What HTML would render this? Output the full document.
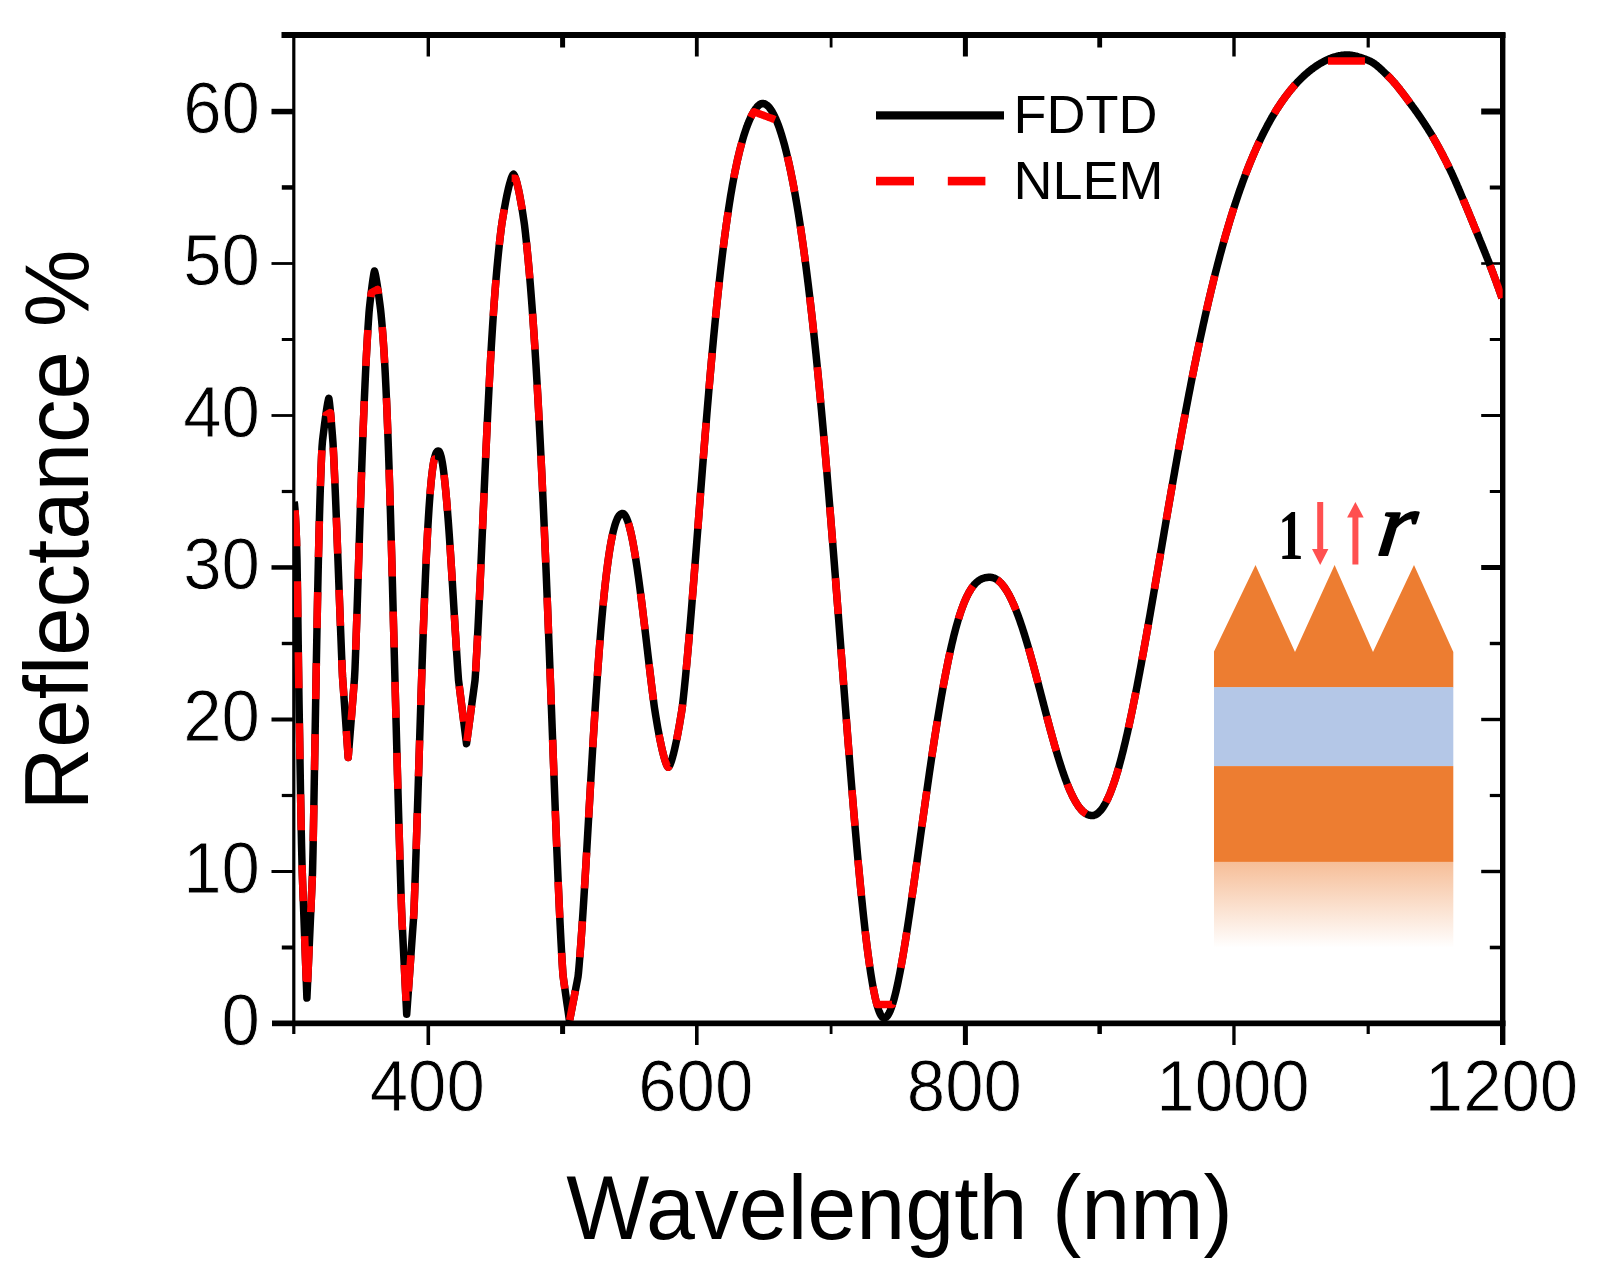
<!DOCTYPE html>
<html lang="en">
<head>
<meta charset="utf-8">
<title>Reflectance vs Wavelength</title>
<style>
html,body{margin:0;padding:0;background:#fff;}
body{width:1603px;height:1278px;overflow:hidden;}
svg{display:block;}
</style>
</head>
<body>
<svg width="1603" height="1278" viewBox="0 0 1603 1278">
<rect width="1603" height="1278" fill="#fff"/>
<defs><linearGradient id="fade" x1="0" y1="0" x2="0" y2="1"><stop offset="0" stop-color="#ED7D31" stop-opacity="0.5"/><stop offset="1" stop-color="#ED7D31" stop-opacity="0"/></linearGradient><clipPath id="plot"><rect x="293.8" y="35" width="1208.9" height="988.6"/></clipPath></defs>
<g id="inset">
<path d="M1214 687.5V651.5L1255.5 565L1295 652L1334.6 565L1373 652L1414 565L1453.3 652V687.5Z" fill="#ED7D31"/>
<rect x="1214" y="687.2" width="239.3" height="79" fill="#B4C7E7"/>
<rect x="1214" y="766.1" width="239.3" height="95.8" fill="#ED7D31"/>
<rect x="1214" y="861.8" width="239.3" height="86" fill="url(#fade)"/>
<path d="M1317.2 502H1323.2V549H1328.4L1320.2 565L1312 549H1317.2Z" fill="#FF5050"/>
<path d="M1352.4 564.5H1358.4V517.5H1363.7L1355.4 502L1347.1 517.5H1352.4Z" fill="#FF5050"/>
<text transform="translate(1290.8 559.2) scale(0.70 1.0)" text-anchor="middle" font-family="'Liberation Serif', serif" font-size="72" font-weight="bold" fill="#000">1</text>
<text transform="translate(1375.5 555.2) skewX(-7) scale(1.06 1.0)" font-family="'Liberation Serif', serif" font-size="91" font-style="italic" fill="#000" stroke="#000" stroke-width="2.2" stroke-linejoin="round">r</text>
</g>
<g fill="#000">
<rect x="281.5" y="32" width="1224" height="6"/>
<rect x="272" y="1020.5" width="1233.5" height="5.7"/>
<rect x="292.2" y="32" width="3.2" height="1002"/>
<rect x="1500" y="33" width="5.4" height="1012"/>
<rect x="281.8" y="945.5" width="11.2" height="4"/>
<rect x="1489.8" y="945.7" width="11.2" height="3.6"/>
<rect x="271.5" y="870.0" width="21.5" height="3"/>
<rect x="1481.2" y="869.8" width="19.8" height="3.4"/>
<rect x="281.8" y="793.9" width="11.2" height="3.2"/>
<rect x="1489.8" y="793.9" width="11.2" height="3.2"/>
<rect x="271.5" y="717.5" width="21.5" height="4"/>
<rect x="1481.2" y="717.8" width="19.8" height="3.4"/>
<rect x="281.8" y="641.8" width="11.2" height="3.4"/>
<rect x="1489.8" y="641.8" width="11.2" height="3.4"/>
<rect x="271.5" y="565.2" width="21.5" height="4.5"/>
<rect x="1481.2" y="565.0" width="19.8" height="5"/>
<rect x="281.8" y="489.9" width="11.2" height="3.2"/>
<rect x="1489.8" y="490.0" width="11.2" height="3"/>
<rect x="271.5" y="414.1" width="21.5" height="2.8"/>
<rect x="1481.2" y="414.0" width="19.8" height="3"/>
<rect x="281.8" y="338.0" width="11.2" height="3"/>
<rect x="1489.8" y="338.0" width="11.2" height="3"/>
<rect x="271.5" y="262.1" width="21.5" height="2.8"/>
<rect x="1481.2" y="262.2" width="19.8" height="2.6"/>
<rect x="281.8" y="185.2" width="11.2" height="4.5"/>
<rect x="1489.8" y="185.5" width="11.2" height="4"/>
<rect x="271.5" y="108.8" width="21.5" height="5.5"/>
<rect x="1481.2" y="108.5" width="19.8" height="6"/>
<rect x="426.5" y="1024" width="3.6" height="21"/>
<rect x="426.6" y="36" width="3.4" height="20.5"/>
<rect x="560.1" y="1024" width="5" height="10"/>
<rect x="560.1" y="36" width="5" height="11.5"/>
<rect x="695.0" y="1024" width="3.6" height="21"/>
<rect x="694.9" y="36" width="3.8" height="20.5"/>
<rect x="829.7" y="1024" width="2.8" height="10"/>
<rect x="829.7" y="36" width="2.8" height="11.5"/>
<rect x="962.9" y="1024" width="5" height="21"/>
<rect x="962.9" y="36" width="5" height="20.5"/>
<rect x="1097.4" y="1024" width="4.5" height="10"/>
<rect x="1097.3" y="36" width="4.8" height="11.5"/>
<rect x="1232.3" y="1024" width="3.3" height="21"/>
<rect x="1232.3" y="36" width="3.4" height="20.5"/>
<rect x="1366.6" y="1024" width="3.2" height="10"/>
<rect x="1366.6" y="36" width="3.2" height="11.5"/>
</g>
<g clip-path="url(#plot)" fill="none" stroke-linejoin="round">
<path d="M294.0 502.0L294.5 504.0L295.0 509.5L295.5 517.8L296.0 528.2L296.5 540.0L297.0 559.8L297.5 590.9L298.0 628.2L298.5 666.3L299.0 700.0L299.5 730.3L300.0 760.9L300.5 790.7L301.0 818.5L301.5 843.3L302.0 863.8L302.5 879.4L303.0 892.9L303.5 906.3L304.0 919.8L304.5 933.3L305.0 946.8L305.5 960.3L306.0 973.7L306.5 987.2L306.9 998.0L307.0 995.8L307.5 984.7L308.0 973.5L308.5 962.4L309.0 951.3L309.5 940.2L310.0 929.0L310.5 917.9L311.0 906.8L311.5 895.7L312.0 884.6L312.5 873.4L313.0 851.8L313.5 825.3L314.0 797.5L314.5 769.0L315.0 740.0L315.5 711.0L316.0 682.3L316.5 654.4L317.0 627.5L317.5 601.9L318.0 577.8L318.5 555.3L319.0 534.6L319.5 515.6L320.0 498.5L320.5 483.2L321.0 469.5L321.5 457.5L322.0 447.1L322.5 441.0L323.0 436.8L323.5 432.7L324.0 428.7L324.5 424.8L325.0 421.0L325.5 417.3L326.0 413.8L326.5 410.4L327.0 407.2L327.5 404.2L328.0 401.5L328.5 399.2L328.8 398.3L329.0 399.3L329.5 403.1L330.0 407.6L330.5 412.7L331.0 418.2L331.5 424.0L332.0 430.1L332.5 436.4L333.0 443.0L333.5 452.4L334.0 462.8L334.5 473.8L335.0 485.3L335.5 497.2L336.0 509.4L336.5 522.0L337.0 534.9L337.5 547.9L338.0 561.1L338.5 574.4L339.0 587.7L339.5 601.0L340.0 614.2L340.5 627.3L341.0 640.2L341.5 652.9L342.0 665.2L342.5 676.4L343.0 683.5L343.5 690.6L344.0 697.7L344.5 704.8L345.0 712.0L345.5 719.1L346.0 726.2L346.5 733.3L347.0 740.4L347.5 747.5L348.0 754.7L348.2 757.5L348.5 753.7L349.0 747.5L349.5 741.2L350.0 734.9L350.5 728.6L351.0 722.3L351.5 716.1L352.0 709.8L352.5 703.5L353.0 697.2L353.5 690.9L354.0 684.7L354.5 678.4L355.0 668.9L355.5 655.6L356.0 641.6L356.5 627.1L357.0 612.2L357.5 596.9L358.0 581.5L358.5 565.9L359.0 550.2L359.5 534.6L360.0 519.2L360.5 503.9L361.0 489.0L361.5 474.3L362.0 460.1L362.5 446.3L363.0 432.9L363.5 420.1L364.0 407.7L364.5 395.9L365.0 384.5L365.5 373.8L366.0 363.5L366.5 353.8L367.0 344.6L367.5 336.0L368.0 327.8L368.5 320.2L369.0 313.1L369.5 307.3L370.0 302.8L370.5 298.5L371.0 294.3L371.5 290.2L372.0 286.3L372.5 282.6L373.0 279.1L373.5 275.9L374.0 273.0L374.5 271.0L375.0 272.7L375.5 275.0L376.0 277.7L376.5 280.6L377.0 283.7L377.5 286.9L378.0 290.3L378.5 293.8L379.0 297.4L379.5 301.2L380.0 305.0L380.5 308.9L381.0 313.7L381.5 318.9L382.0 324.5L382.5 330.6L383.0 337.1L383.5 344.2L384.0 351.8L384.5 360.1L385.0 369.0L385.5 378.6L386.0 388.9L386.5 399.9L387.0 411.7L387.5 424.3L388.0 437.6L388.5 451.7L389.0 466.4L389.5 481.9L390.0 498.0L390.5 514.7L391.0 532.0L391.5 549.7L392.0 567.8L392.5 586.3L393.0 605.1L393.5 624.1L394.0 643.2L394.5 662.3L395.0 681.4L395.5 700.5L396.0 719.4L396.5 738.1L397.0 756.6L397.5 774.8L398.0 792.8L398.5 810.4L399.0 827.6L399.5 844.5L400.0 861.1L400.5 877.2L401.0 893.0L401.5 908.3L402.0 920.3L402.5 930.3L403.0 940.3L403.5 950.3L404.0 960.3L404.5 970.3L405.0 980.2L405.5 990.2L406.0 1000.2L406.5 1010.2L406.7 1014.2L407.0 1010.0L407.5 1003.0L408.0 996.0L408.5 989.0L409.0 982.1L409.5 975.1L410.0 968.1L410.5 961.1L411.0 954.1L411.5 947.1L412.0 940.1L412.5 933.1L413.0 926.1L413.5 919.2L414.0 910.2L414.5 896.8L415.0 882.9L415.5 868.6L416.0 853.8L416.5 838.7L417.0 823.3L417.5 807.7L418.0 792.0L418.5 776.2L419.0 760.3L419.5 744.5L420.0 728.7L420.5 713.1L421.0 697.7L421.5 682.6L422.0 667.7L422.5 653.2L423.0 639.1L423.5 625.4L424.0 612.1L424.5 599.3L425.0 587.0L425.5 575.2L426.0 564.0L426.5 553.3L427.0 543.2L427.5 533.7L428.0 524.7L428.5 516.4L429.0 508.6L429.5 501.4L430.0 494.7L430.5 488.7L431.0 483.1L431.5 478.1L432.0 473.6L432.5 469.6L433.0 466.0L433.5 462.9L434.0 460.2L434.5 458.0L435.0 456.1L435.5 454.5L436.0 453.3L436.5 452.3L437.0 451.7L437.5 451.2L438.0 451.0L438.3 451.0L438.5 451.0L439.0 451.3L439.5 452.0L440.0 453.1L440.5 454.5L441.0 456.2L441.5 458.4L442.0 460.8L442.5 463.7L443.0 466.9L443.5 470.5L444.0 474.4L444.5 478.7L445.0 483.3L445.5 488.3L446.0 493.6L446.5 499.1L447.0 505.0L447.5 511.2L448.0 517.7L448.5 524.4L449.0 531.3L449.5 538.5L450.0 545.9L450.5 553.4L451.0 561.2L451.5 569.0L452.0 577.0L452.5 585.1L453.0 593.3L453.5 601.5L454.0 609.7L454.5 618.0L455.0 626.2L455.5 634.3L456.0 642.4L456.5 650.3L457.0 658.1L457.5 665.7L458.0 673.1L458.5 680.0L459.0 684.0L459.5 688.0L460.0 692.0L460.5 695.9L461.0 699.9L461.5 703.9L462.0 707.9L462.5 711.9L463.0 715.9L463.5 719.9L464.0 723.9L464.5 727.8L465.0 731.8L465.5 735.8L466.0 739.8L466.5 743.8L467.0 740.1L467.5 736.4L468.0 732.6L468.5 728.9L469.0 725.2L469.5 721.5L470.0 717.7L470.5 714.0L471.0 710.3L471.5 706.6L472.0 702.8L472.5 699.1L473.0 695.4L473.5 691.7L474.0 687.9L474.5 684.2L475.0 680.5L475.5 673.6L476.0 665.1L476.5 656.3L477.0 647.1L477.5 637.5L478.0 627.6L478.5 617.4L479.0 607.0L479.5 596.3L480.0 585.4L480.5 574.3L481.0 563.1L481.5 551.8L482.0 540.4L482.5 529.0L483.0 517.5L483.5 506.1L484.0 494.7L484.5 483.4L485.0 472.2L485.5 461.1L486.0 450.1L486.5 439.3L487.0 428.7L487.5 418.3L488.0 408.1L488.5 398.2L489.0 388.4L489.5 378.9L490.0 369.7L490.5 360.7L491.0 352.0L491.5 343.5L492.0 335.4L492.5 327.5L493.0 319.8L493.5 312.4L494.0 305.3L494.5 298.5L495.0 291.9L495.5 285.5L496.0 279.4L496.5 273.5L497.0 267.9L497.5 262.5L498.0 257.3L498.5 252.3L499.0 247.5L499.5 242.9L500.0 238.5L500.5 234.2L501.0 230.2L501.5 226.2L502.0 222.8L502.5 219.6L503.0 216.6L503.5 213.6L504.0 210.7L504.5 207.8L505.0 205.1L505.5 202.4L506.0 199.8L506.5 197.3L507.0 194.8L507.5 192.5L508.0 190.3L508.5 188.1L509.0 186.1L509.5 184.2L510.0 182.4L510.5 180.7L511.0 179.1L511.5 177.7L512.0 176.5L512.5 175.4L513.0 174.6L513.5 174.2L514.0 174.7L514.5 175.6L515.0 176.8L515.5 178.1L516.0 179.7L516.5 181.4L517.0 183.3L517.5 185.3L518.0 187.5L518.5 189.7L519.0 192.1L519.5 194.6L520.0 197.2L520.5 200.0L521.0 202.8L521.5 205.7L522.0 208.7L522.5 211.7L523.0 214.9L523.5 218.2L524.0 221.5L524.5 225.1L525.0 229.3L525.5 233.7L526.0 238.3L526.5 243.0L527.0 247.9L527.5 253.0L528.0 258.2L528.5 263.6L529.0 269.1L529.5 274.9L530.0 280.8L530.5 286.8L531.0 293.1L531.5 299.5L532.0 306.1L532.5 312.9L533.0 319.8L533.5 327.0L534.0 334.3L534.5 341.9L535.0 349.6L535.5 357.5L536.0 365.6L536.5 373.9L537.0 382.4L537.5 391.1L538.0 399.9L538.5 409.0L539.0 418.3L539.5 427.8L540.0 437.5L540.5 447.4L541.0 457.4L541.5 467.7L542.0 478.2L542.5 488.9L543.0 499.8L543.5 510.9L544.0 522.1L544.5 533.6L545.0 545.2L545.5 557.0L546.0 569.0L546.5 581.2L547.0 593.5L547.5 606.0L548.0 618.6L548.5 631.4L549.0 644.3L549.5 657.2L550.0 670.3L550.5 683.5L551.0 696.8L551.5 710.1L552.0 723.4L552.5 736.7L553.0 750.1L553.5 763.4L554.0 776.6L554.5 789.8L555.0 802.9L555.5 815.9L556.0 828.7L556.5 841.3L557.0 853.7L557.5 865.9L558.0 877.8L558.5 889.4L559.0 900.6L559.5 911.5L560.0 922.0L560.5 932.1L561.0 941.8L561.5 950.9L562.0 959.6L562.5 967.7L563.0 975.3L563.5 979.1L564.0 982.6L564.5 986.1L565.0 989.6L565.5 993.1L566.0 996.6L566.5 1000.1L567.0 1003.6L567.5 1007.0L568.0 1010.5L568.5 1014.0L569.0 1017.5L569.5 1021.0L570.0 1018.4L570.5 1015.8L571.0 1013.2L571.5 1010.6L572.0 1008.0L572.5 1005.4L573.0 1002.9L573.5 1000.3L574.0 997.7L574.5 995.1L575.0 992.5L575.5 989.9L576.0 987.3L576.5 984.7L577.0 982.1L577.5 979.5L578.0 976.9L578.5 972.5L579.0 966.8L579.5 960.8L580.0 954.6L580.5 948.0L581.0 941.3L581.5 934.3L582.0 927.0L582.5 919.6L583.0 912.0L583.5 904.2L584.0 896.2L584.5 888.1L585.0 879.9L585.5 871.5L586.0 863.1L586.5 854.6L587.0 846.0L587.5 837.4L588.0 828.7L588.5 820.1L589.0 811.4L589.5 802.7L590.0 794.1L590.5 785.4L591.0 776.9L591.5 768.4L592.0 759.9L592.5 751.6L593.0 743.3L593.5 735.1L594.0 727.0L594.5 719.1L595.0 711.2L595.5 703.5L596.0 695.9L596.5 688.5L597.0 681.2L597.5 674.1L598.0 667.1L598.5 660.2L599.0 653.5L599.5 647.0L600.0 640.7L600.5 634.5L601.0 628.4L601.5 622.6L602.0 616.9L602.5 611.3L603.0 606.0L603.5 600.8L604.0 595.8L604.5 590.9L605.0 586.2L605.5 581.7L606.0 577.3L606.5 573.1L607.0 569.1L607.5 565.2L608.0 561.5L608.5 557.9L609.0 554.5L609.5 551.2L610.0 548.1L610.5 545.2L611.0 542.3L611.5 539.7L612.0 537.2L612.5 534.8L613.0 532.5L613.5 530.4L614.0 528.5L614.5 526.6L615.0 524.9L615.5 523.3L616.0 521.9L616.5 520.6L617.0 519.4L617.5 518.3L618.0 517.3L618.5 516.5L619.0 515.7L619.5 515.1L620.0 514.6L620.5 514.2L621.0 513.9L621.5 513.6L622.0 513.5L622.4 513.5L622.5 513.5L623.0 513.6L623.5 513.8L624.0 514.2L624.5 514.7L625.0 515.4L625.5 516.1L626.0 517.0L626.5 518.1L627.0 519.3L627.5 520.6L628.0 522.0L628.5 523.5L629.0 525.2L629.5 527.0L630.0 529.0L630.5 531.0L631.0 533.2L631.5 535.4L632.0 537.8L632.5 540.3L633.0 542.9L633.5 545.6L634.0 548.4L634.5 551.3L635.0 554.3L635.5 557.4L636.0 560.6L636.5 563.9L637.0 567.3L637.5 570.7L638.0 574.2L638.5 577.8L639.0 581.5L639.5 585.2L640.0 589.0L640.5 592.9L641.0 596.8L641.5 600.8L642.0 604.8L642.5 608.8L643.0 612.9L643.5 617.1L644.0 621.2L644.5 625.4L645.0 629.7L645.5 633.9L646.0 638.1L646.5 642.4L647.0 646.7L647.5 650.9L648.0 655.2L648.5 659.5L649.0 663.7L649.5 667.9L650.0 672.2L650.5 676.3L651.0 680.5L651.5 684.6L652.0 688.7L652.5 692.7L653.0 696.6L653.5 700.5L654.0 704.4L654.5 708.0L655.0 711.2L655.5 714.4L656.0 717.4L656.5 720.4L657.0 723.4L657.5 726.3L658.0 729.1L658.5 731.8L659.0 734.5L659.5 737.1L660.0 739.7L660.5 742.1L661.0 744.5L661.5 746.8L662.0 749.0L662.5 751.2L663.0 753.2L663.5 755.1L664.0 757.0L664.5 758.7L665.0 760.4L665.5 761.9L666.0 763.3L666.5 764.5L667.0 765.6L667.5 766.5L668.0 767.1L668.3 767.3L668.5 767.2L669.0 766.6L669.5 765.8L670.0 764.8L670.5 763.6L671.0 762.2L671.5 760.7L672.0 759.1L672.5 757.4L673.0 755.6L673.5 753.7L674.0 751.7L674.5 749.6L675.0 747.4L675.5 745.1L676.0 742.8L676.5 740.4L677.0 737.9L677.5 735.3L678.0 732.7L678.5 729.9L679.0 727.2L679.5 724.3L680.0 721.4L680.5 718.4L681.0 715.4L681.5 712.3L682.0 709.2L682.5 705.5L683.0 701.0L683.5 696.4L684.0 691.7L684.5 686.9L685.0 681.9L685.5 676.9L686.0 671.7L686.5 666.4L687.0 661.0L687.5 655.5L688.0 649.9L688.5 644.2L689.0 638.5L689.5 632.7L690.0 626.8L690.5 620.8L691.0 614.8L691.5 608.7L692.0 602.5L692.5 596.3L693.0 590.1L693.5 583.8L694.0 577.5L694.5 571.1L695.0 564.8L695.5 558.3L696.0 551.9L696.5 545.5L697.0 539.0L697.5 532.6L698.0 526.1L698.5 519.6L699.0 513.2L699.5 506.7L700.0 500.3L700.5 493.8L701.0 487.4L701.5 481.0L702.0 474.6L702.5 468.3L703.0 461.9L703.5 455.6L704.0 449.4L704.5 443.1L705.0 436.9L705.5 430.8L706.0 424.6L706.5 418.6L707.0 412.5L707.5 406.5L708.0 400.6L708.5 394.7L709.0 388.8L709.5 383.1L710.0 377.3L710.5 371.6L711.0 366.0L711.5 360.4L712.0 354.9L712.5 349.5L713.0 344.1L713.5 338.7L714.0 333.5L714.5 328.3L715.0 323.1L715.5 318.0L716.0 313.0L716.5 308.1L717.0 303.2L717.5 298.4L718.0 293.6L718.5 288.9L719.0 284.3L719.5 279.8L720.0 275.3L720.5 270.9L721.0 266.5L721.5 262.3L722.0 258.0L722.5 253.9L723.0 249.8L723.5 245.8L724.0 241.9L724.5 238.0L725.0 234.2L725.5 230.5L726.0 226.8L726.5 223.2L727.0 219.7L727.5 216.2L728.0 212.8L728.5 209.5L729.0 206.2L729.5 203.0L730.0 199.8L730.5 196.7L731.0 193.7L731.5 190.8L732.0 187.9L732.5 185.0L733.0 182.3L733.5 179.6L734.0 176.9L734.5 174.3L735.0 171.8L735.5 169.3L736.0 166.9L736.5 164.5L737.0 162.2L737.5 159.9L738.0 157.7L738.5 155.6L739.0 153.5L739.5 151.4L740.0 149.4L740.5 147.5L741.0 145.6L741.5 143.7L742.0 141.9L742.5 140.2L743.0 138.5L743.5 136.8L744.0 135.2L744.5 133.6L745.0 132.1L745.5 130.6L746.0 129.1L746.5 127.7L747.0 126.4L747.5 125.0L748.0 123.8L748.5 122.5L749.0 121.3L749.5 120.1L750.0 119.0L750.5 117.9L751.0 116.8L751.5 115.8L752.0 114.8L752.5 113.9L753.0 113.0L753.5 112.1L754.0 111.3L754.5 110.5L755.0 109.7L755.5 109.0L756.0 108.3L756.5 107.7L757.0 107.0L757.5 106.5L758.0 106.0L758.5 105.5L759.0 105.1L759.5 104.7L760.0 104.3L760.5 104.1L761.0 103.8L761.5 103.7L762.0 103.5L762.5 103.5L762.6 103.5L763.0 103.5L763.5 103.6L764.0 103.7L764.5 103.8L765.0 104.0L765.5 104.3L766.0 104.6L766.5 104.9L767.0 105.3L767.5 105.7L768.0 106.2L768.5 106.7L769.0 107.2L769.5 107.8L770.0 108.5L770.5 109.1L771.0 109.9L771.5 110.6L772.0 111.4L772.5 112.3L773.0 113.2L773.5 114.1L774.0 115.1L774.5 116.1L775.0 117.2L775.5 118.3L776.0 119.4L776.5 120.6L777.0 121.8L777.5 123.1L778.0 124.4L778.5 125.7L779.0 127.1L779.5 128.5L780.0 130.0L780.5 131.5L781.0 133.1L781.5 134.7L782.0 136.3L782.5 138.0L783.0 139.7L783.5 141.5L784.0 143.3L784.5 145.1L785.0 147.0L785.5 148.9L786.0 150.9L786.5 152.9L787.0 155.0L787.5 157.1L788.0 159.2L788.5 161.4L789.0 163.6L789.5 165.9L790.0 168.2L790.5 170.6L791.0 173.0L791.5 175.4L792.0 177.9L792.5 180.5L793.0 183.0L793.5 185.7L794.0 188.3L794.5 191.1L795.0 193.8L795.5 196.6L796.0 199.5L796.5 202.4L797.0 205.4L797.5 208.4L798.0 211.4L798.5 214.5L799.0 217.7L799.5 220.8L800.0 224.1L800.5 227.4L801.0 230.7L801.5 234.1L802.0 237.5L802.5 241.0L803.0 244.6L803.5 248.1L804.0 251.8L804.5 255.5L805.0 259.2L805.5 263.0L806.0 266.8L806.5 270.7L807.0 274.7L807.5 278.7L808.0 282.7L808.5 286.8L809.0 291.0L809.5 295.2L810.0 299.4L810.5 303.7L811.0 308.1L811.5 312.5L812.0 316.9L812.5 321.4L813.0 326.0L813.5 330.6L814.0 335.3L814.5 340.0L815.0 344.8L815.5 349.6L816.0 354.4L816.5 359.4L817.0 364.3L817.5 369.3L818.0 374.4L818.5 379.5L819.0 384.7L819.5 389.9L820.0 395.2L820.5 400.5L821.0 405.8L821.5 411.2L822.0 416.7L822.5 422.2L823.0 427.7L823.5 433.3L824.0 439.0L824.5 444.6L825.0 450.4L825.5 456.1L826.0 461.9L826.5 467.8L827.0 473.6L827.5 479.6L828.0 485.5L828.5 491.5L829.0 497.5L829.5 503.6L830.0 509.7L830.5 515.8L831.0 522.0L831.5 528.2L832.0 534.4L832.5 540.7L833.0 547.0L833.5 553.3L834.0 559.6L834.5 565.9L835.0 572.3L835.5 578.7L836.0 585.1L836.5 591.6L837.0 598.0L837.5 604.5L838.0 610.9L838.5 617.4L839.0 623.9L839.5 630.4L840.0 636.9L840.5 643.4L841.0 650.0L841.5 656.5L842.0 663.0L842.5 669.5L843.0 676.0L843.5 682.5L844.0 689.0L844.5 695.5L845.0 702.0L845.5 708.5L846.0 714.9L846.5 721.4L847.0 727.8L847.5 734.2L848.0 740.6L848.5 746.9L849.0 753.2L849.5 759.5L850.0 765.8L850.5 772.0L851.0 778.2L851.5 784.4L852.0 790.5L852.5 796.5L853.0 802.6L853.5 808.6L854.0 814.5L854.5 820.4L855.0 826.2L855.5 832.0L856.0 837.8L856.5 843.4L857.0 849.1L857.5 854.6L858.0 860.1L858.5 865.5L859.0 870.9L859.5 876.2L860.0 881.4L860.5 886.6L861.0 891.6L861.5 896.6L862.0 901.5L862.5 906.4L863.0 911.1L863.5 915.8L864.0 920.4L864.5 924.9L865.0 929.3L865.5 933.7L866.0 937.9L866.5 942.0L867.0 946.1L867.5 950.0L868.0 953.9L868.5 957.6L869.0 961.3L869.5 964.8L870.0 968.2L870.5 971.6L871.0 974.8L871.5 977.9L872.0 981.0L872.5 983.9L873.0 986.7L873.5 989.3L874.0 991.9L874.5 994.3L875.0 996.7L875.5 998.9L876.0 1001.0L876.5 1003.0L877.0 1004.9L877.5 1006.6L878.0 1008.2L878.5 1009.7L879.0 1011.1L879.5 1012.4L880.0 1013.5L880.5 1014.5L881.0 1015.4L881.5 1016.1L882.0 1016.8L882.5 1017.3L883.0 1017.6L883.5 1017.9L884.0 1018.0L884.2 1018.0L884.5 1018.0L885.0 1017.9L885.5 1017.6L886.0 1017.3L886.5 1016.9L887.0 1016.4L887.5 1015.7L888.0 1015.0L888.5 1014.2L889.0 1013.3L889.5 1012.3L890.0 1011.2L890.5 1010.0L891.0 1008.7L891.5 1007.3L892.0 1005.8L892.5 1004.3L893.0 1002.7L893.5 1001.0L894.0 999.2L894.5 997.3L895.0 995.4L895.5 993.4L896.0 991.3L896.5 989.1L897.0 986.9L897.5 984.6L898.0 982.2L898.5 979.8L899.0 977.3L899.5 974.8L900.0 972.2L900.5 969.5L901.0 966.8L901.5 964.0L902.0 961.2L902.5 958.4L903.0 955.5L903.5 952.5L904.0 949.5L904.5 946.5L905.0 943.4L905.5 940.3L906.0 937.1L906.5 933.9L907.0 930.7L907.5 927.4L908.0 924.1L908.5 920.8L909.0 917.5L909.5 914.1L910.0 910.7L910.5 907.3L911.0 903.9L911.5 900.4L912.0 896.9L912.5 893.4L913.0 889.9L913.5 886.4L914.0 882.9L914.5 879.3L915.0 875.8L915.5 872.2L916.0 868.6L916.5 865.0L917.0 861.4L917.5 857.8L918.0 854.2L918.5 850.6L919.0 847.0L919.5 843.4L920.0 839.8L920.5 836.1L921.0 832.5L921.5 828.9L922.0 825.3L922.5 821.7L923.0 818.1L923.5 814.5L924.0 811.0L924.5 807.4L925.0 803.8L925.5 800.3L926.0 796.7L926.5 793.2L927.0 789.7L927.5 786.2L928.0 782.7L928.5 779.2L929.0 775.8L929.5 772.3L930.0 768.9L930.5 765.5L931.0 762.1L931.5 758.7L932.0 755.3L932.5 752.0L933.0 748.7L933.5 745.4L934.0 742.1L934.5 738.9L935.0 735.7L935.5 732.5L936.0 729.3L936.5 726.1L937.0 723.0L937.5 719.9L938.0 716.8L938.5 713.8L939.0 710.8L939.5 707.8L940.0 704.8L940.5 701.9L941.0 699.0L941.5 696.1L942.0 693.3L942.5 690.5L943.0 687.7L943.5 684.9L944.0 682.2L944.5 679.5L945.0 676.9L945.5 674.3L946.0 671.7L946.5 669.2L947.0 666.6L947.5 664.2L948.0 661.7L948.5 659.3L949.0 656.9L949.5 654.6L950.0 652.3L950.5 650.0L951.0 647.8L951.5 645.6L952.0 643.5L952.5 641.4L953.0 639.3L953.5 637.2L954.0 635.2L954.5 633.3L955.0 631.3L955.5 629.4L956.0 627.6L956.5 625.8L957.0 624.0L957.5 622.2L958.0 620.5L958.5 618.9L959.0 617.3L959.5 615.7L960.0 614.1L960.5 612.6L961.0 611.1L961.5 609.7L962.0 608.3L962.5 606.9L963.0 605.6L963.5 604.3L964.0 603.0L964.5 601.8L965.0 600.6L965.5 599.5L966.0 598.4L966.5 597.3L967.0 596.2L967.5 595.2L968.0 594.3L968.5 593.3L969.0 592.4L969.5 591.5L970.0 590.7L970.5 589.9L971.0 589.1L971.5 588.3L972.0 587.6L972.5 586.9L973.0 586.3L973.5 585.6L974.0 585.0L974.5 584.5L975.0 583.9L975.5 583.4L976.0 582.9L976.5 582.4L977.0 582.0L977.5 581.6L978.0 581.2L978.5 580.8L979.0 580.4L979.5 580.1L980.0 579.8L980.5 579.5L981.0 579.3L981.5 579.0L982.0 578.8L982.5 578.6L983.0 578.4L983.5 578.2L984.0 578.1L984.5 577.9L985.0 577.8L985.5 577.7L986.0 577.6L986.5 577.5L987.0 577.5L987.5 577.4L988.0 577.4L988.5 577.3L989.0 577.3L989.5 577.3L989.7 577.3L990.0 577.3L990.5 577.3L991.0 577.4L991.5 577.4L992.0 577.5L992.5 577.6L993.0 577.8L993.5 577.9L994.0 578.1L994.5 578.3L995.0 578.5L995.5 578.8L996.0 579.1L996.5 579.4L997.0 579.7L997.5 580.0L998.0 580.4L998.5 580.8L999.0 581.2L999.5 581.7L1000.0 582.1L1000.5 582.6L1001.0 583.2L1001.5 583.7L1002.0 584.3L1002.5 584.9L1003.0 585.5L1003.5 586.1L1004.0 586.8L1004.5 587.5L1005.0 588.2L1005.5 588.9L1006.0 589.7L1006.5 590.5L1007.0 591.3L1007.5 592.2L1008.0 593.0L1008.5 593.9L1009.0 594.8L1009.5 595.8L1010.0 596.7L1010.5 597.7L1011.0 598.8L1011.5 599.8L1012.0 600.9L1012.5 601.9L1013.0 603.1L1013.5 604.2L1014.0 605.4L1014.5 606.5L1015.0 607.7L1015.5 609.0L1016.0 610.2L1016.5 611.5L1017.0 612.8L1017.5 614.1L1018.0 615.4L1018.5 616.8L1019.0 618.2L1019.5 619.6L1020.0 621.0L1020.5 622.5L1021.0 623.9L1021.5 625.4L1022.0 626.9L1022.5 628.4L1023.0 630.0L1023.5 631.5L1024.0 633.1L1024.5 634.7L1025.0 636.3L1025.5 637.9L1026.0 639.6L1026.5 641.3L1027.0 642.9L1027.5 644.6L1028.0 646.3L1028.5 648.0L1029.0 649.8L1029.5 651.5L1030.0 653.3L1030.5 655.1L1031.0 656.9L1031.5 658.7L1032.0 660.5L1032.5 662.3L1033.0 664.1L1033.5 666.0L1034.0 667.8L1034.5 669.7L1035.0 671.5L1035.5 673.4L1036.0 675.3L1036.5 677.2L1037.0 679.1L1037.5 681.0L1038.0 682.9L1038.5 684.8L1039.0 686.7L1039.5 688.6L1040.0 690.5L1040.5 692.4L1041.0 694.4L1041.5 696.3L1042.0 698.2L1042.5 700.1L1043.0 702.0L1043.5 704.0L1044.0 705.9L1044.5 707.8L1045.0 709.7L1045.5 711.6L1046.0 713.5L1046.5 715.4L1047.0 717.3L1047.5 719.2L1048.0 721.1L1048.5 723.0L1049.0 724.9L1049.5 726.7L1050.0 728.6L1050.5 730.5L1051.0 732.3L1051.5 734.1L1052.0 735.9L1052.5 737.7L1053.0 739.5L1053.5 741.3L1054.0 743.1L1054.5 744.9L1055.0 746.6L1055.5 748.3L1056.0 750.1L1056.5 751.8L1057.0 753.4L1057.5 755.1L1058.0 756.8L1058.5 758.4L1059.0 760.0L1059.5 761.6L1060.0 763.2L1060.5 764.8L1061.0 766.3L1061.5 767.9L1062.0 769.4L1062.5 770.9L1063.0 772.3L1063.5 773.8L1064.0 775.2L1064.5 776.6L1065.0 778.0L1065.5 779.4L1066.0 780.7L1066.5 782.0L1067.0 783.3L1067.5 784.6L1068.0 785.8L1068.5 787.1L1069.0 788.3L1069.5 789.5L1070.0 790.6L1070.5 791.7L1071.0 792.8L1071.5 793.9L1072.0 795.0L1072.5 796.0L1073.0 797.0L1073.5 798.0L1074.0 798.9L1074.5 799.8L1075.0 800.7L1075.5 801.6L1076.0 802.4L1076.5 803.3L1077.0 804.1L1077.5 804.8L1078.0 805.6L1078.5 806.3L1079.0 807.0L1079.5 807.6L1080.0 808.2L1080.5 808.8L1081.0 809.4L1081.5 810.0L1082.0 810.5L1082.5 811.0L1083.0 811.5L1083.5 811.9L1084.0 812.3L1084.5 812.7L1085.0 813.1L1085.5 813.4L1086.0 813.7L1086.5 814.0L1087.0 814.3L1087.5 814.5L1088.0 814.7L1088.5 814.9L1089.0 815.1L1089.5 815.2L1090.0 815.3L1090.5 815.4L1091.0 815.5L1091.5 815.5L1092.0 815.5L1092.5 815.5L1093.0 815.4L1093.5 815.4L1094.0 815.2L1094.5 815.1L1095.0 814.9L1095.5 814.7L1096.0 814.4L1096.5 814.2L1097.0 813.8L1097.5 813.5L1098.0 813.1L1098.5 812.7L1099.0 812.2L1099.5 811.7L1100.0 811.2L1100.5 810.7L1101.0 810.1L1101.5 809.4L1102.0 808.8L1102.5 808.1L1103.0 807.4L1103.5 806.6L1104.0 805.8L1104.5 805.0L1105.0 804.1L1105.5 803.2L1106.0 802.3L1106.5 801.3L1107.0 800.3L1107.5 799.2L1108.0 798.2L1108.5 797.1L1109.0 795.9L1109.5 794.8L1110.0 793.6L1110.5 792.3L1111.0 791.0L1111.5 789.7L1112.0 788.4L1112.5 787.0L1113.0 785.6L1113.5 784.2L1114.0 782.7L1114.5 781.2L1115.0 779.7L1115.5 778.2L1116.0 776.6L1116.5 775.0L1117.0 773.3L1117.5 771.6L1118.0 769.9L1118.5 768.2L1119.0 766.4L1119.5 764.6L1120.0 762.8L1120.5 760.9L1121.0 759.1L1121.5 757.2L1122.0 755.2L1122.5 753.3L1123.0 751.3L1123.5 749.3L1124.0 747.2L1124.5 745.2L1125.0 743.1L1125.5 741.0L1126.0 738.8L1126.5 736.7L1127.0 734.5L1127.5 732.3L1128.0 730.0L1128.5 727.8L1129.0 725.5L1129.5 723.2L1130.0 720.9L1130.5 718.5L1131.0 716.2L1131.5 713.8L1132.0 711.4L1132.5 709.0L1133.0 706.5L1133.5 704.1L1134.0 701.6L1134.5 699.1L1135.0 696.6L1135.5 694.0L1136.0 691.5L1136.5 688.9L1137.0 686.4L1137.5 683.8L1138.0 681.1L1138.5 678.5L1139.0 675.9L1139.5 673.2L1140.0 670.5L1140.5 667.9L1141.0 665.2L1141.5 662.5L1142.0 659.7L1142.5 657.0L1143.0 654.3L1143.5 651.5L1144.0 648.7L1144.5 646.0L1145.0 643.2L1145.5 640.4L1146.0 637.6L1146.5 634.8L1147.0 631.9L1147.5 629.1L1148.0 626.3L1148.5 623.4L1149.0 620.5L1149.5 617.7L1150.0 614.8L1150.5 611.9L1151.0 609.1L1151.5 606.2L1152.0 603.3L1152.5 600.4L1153.0 597.5L1153.5 594.6L1154.0 591.7L1154.5 588.8L1155.0 585.8L1155.5 582.9L1156.0 580.0L1156.5 577.1L1157.0 574.1L1157.5 571.2L1158.0 568.3L1158.5 565.4L1159.0 562.4L1159.5 559.5L1160.0 556.6L1160.5 553.6L1161.0 550.7L1161.5 547.8L1162.0 544.8L1162.5 541.9L1163.0 539.0L1163.5 536.1L1164.0 533.1L1164.5 530.2L1165.0 527.3L1165.5 524.4L1166.0 521.5L1166.5 518.5L1167.0 515.6L1167.5 512.7L1168.0 509.8L1168.5 506.9L1169.0 504.0L1169.5 501.2L1170.0 498.3L1170.5 495.4L1171.0 492.5L1171.5 489.6L1172.0 486.8L1172.5 483.9L1173.0 481.1L1173.5 478.2L1174.0 475.4L1174.5 472.6L1175.0 469.7L1175.5 466.9L1176.0 464.1L1176.5 461.3L1177.0 458.5L1177.5 455.7L1178.0 452.9L1178.5 450.1L1179.0 447.4L1179.5 444.6L1180.0 441.9L1180.5 439.1L1181.0 436.4L1181.5 433.6L1182.0 430.9L1182.5 428.2L1183.0 425.5L1183.5 422.8L1184.0 420.1L1184.5 417.5L1185.0 414.8L1185.5 412.1L1186.0 409.5L1186.5 406.9L1187.0 404.2L1187.5 401.6L1188.0 399.0L1188.5 396.4L1189.0 393.8L1189.5 391.3L1190.0 388.7L1190.5 386.1L1191.0 383.6L1191.5 381.1L1192.0 378.5L1192.5 376.0L1193.0 373.5L1193.5 371.0L1194.0 368.5L1194.5 366.1L1195.0 363.6L1195.5 361.2L1196.0 358.7L1196.5 356.3L1197.0 353.9L1197.5 351.5L1198.0 349.1L1198.5 346.7L1199.0 344.3L1199.5 342.0L1200.0 339.6L1200.5 337.3L1201.0 335.0L1201.5 332.7L1202.0 330.4L1202.5 328.1L1203.0 325.8L1203.5 323.5L1204.0 321.3L1204.5 319.1L1205.0 316.8L1205.5 314.6L1206.0 312.4L1206.5 310.2L1207.0 308.0L1207.5 305.9L1208.0 303.7L1208.5 301.5L1209.0 299.4L1209.5 297.3L1210.0 295.2L1210.5 293.1L1211.0 291.0L1211.5 288.9L1212.0 286.8L1212.5 284.8L1213.0 282.8L1213.5 280.7L1214.0 278.7L1214.5 276.7L1215.0 274.7L1215.5 272.7L1216.0 270.8L1216.5 268.8L1217.0 266.9L1217.5 264.9L1218.0 263.0L1218.5 261.1L1219.0 259.2L1219.5 257.3L1220.0 255.4L1220.5 253.6L1221.0 251.7L1221.5 249.9L1222.0 248.0L1222.5 246.2L1223.0 244.4L1223.5 242.6L1224.0 240.8L1224.5 239.1L1225.0 237.3L1225.5 235.5L1226.0 233.8L1226.5 232.1L1227.0 230.4L1227.5 228.7L1228.0 227.0L1228.5 225.3L1229.0 223.6L1229.5 222.0L1230.0 220.3L1230.5 218.7L1231.0 217.0L1231.5 215.4L1232.0 213.8L1232.5 212.2L1233.0 210.6L1233.5 209.1L1234.0 207.5L1234.5 206.0L1235.0 204.4L1235.5 202.9L1236.0 201.4L1236.5 199.9L1237.0 198.4L1237.5 196.9L1238.0 195.4L1238.5 193.9L1239.0 192.5L1239.5 191.0L1240.0 189.6L1240.5 188.2L1241.0 186.8L1241.5 185.4L1242.0 184.0L1242.5 182.6L1243.0 181.2L1243.5 179.8L1244.0 178.5L1244.5 177.1L1245.0 175.8L1245.5 174.5L1246.0 173.2L1246.5 171.9L1247.0 170.6L1247.5 169.3L1248.0 168.0L1248.5 166.8L1249.0 165.5L1249.5 164.3L1250.0 163.0L1250.5 161.8L1251.0 160.6L1251.5 159.4L1252.0 158.2L1252.5 157.0L1253.0 155.8L1253.5 154.6L1254.0 153.5L1254.5 152.3L1255.0 151.2L1255.5 150.0L1256.0 148.9L1256.5 147.8L1257.0 146.7L1257.5 145.6L1258.0 144.5L1258.5 143.4L1259.0 142.3L1259.5 141.3L1260.0 140.2L1260.5 139.1L1261.0 138.1L1261.5 137.1L1262.0 136.0L1262.5 135.0L1263.0 134.0L1263.5 133.0L1264.0 132.0L1264.5 131.1L1265.0 130.1L1265.5 129.1L1266.0 128.2L1266.5 127.2L1267.0 126.3L1267.5 125.3L1268.0 124.4L1268.5 123.5L1269.0 122.6L1269.5 121.7L1270.0 120.8L1270.5 119.9L1271.0 119.0L1271.5 118.1L1272.0 117.3L1272.5 116.4L1273.0 115.6L1273.5 114.7L1274.0 113.9L1274.5 113.1L1275.0 112.2L1275.5 111.4L1276.0 110.6L1276.5 109.8L1277.0 109.0L1277.5 108.2L1278.0 107.5L1278.5 106.7L1279.0 105.9L1279.5 105.2L1280.0 104.4L1280.5 103.7L1281.0 102.9L1281.5 102.2L1282.0 101.5L1282.5 100.8L1283.0 100.1L1283.5 99.4L1284.0 98.7L1284.5 98.0L1285.0 97.3L1285.5 96.6L1286.0 95.9L1286.5 95.3L1287.0 94.6L1287.5 94.0L1288.0 93.3L1288.5 92.7L1289.0 92.0L1289.5 91.4L1290.0 90.8L1290.5 90.2L1291.0 89.6L1291.5 89.0L1292.0 88.4L1292.5 87.8L1293.0 87.2L1293.5 86.6L1294.0 86.0L1294.5 85.5L1295.0 84.9L1295.5 84.4L1296.0 83.8L1296.5 83.3L1297.0 82.7L1297.5 82.2L1298.0 81.7L1298.5 81.1L1299.0 80.6L1299.5 80.1L1300.0 79.6L1300.5 79.1L1301.0 78.6L1301.5 78.1L1302.0 77.6L1302.5 77.1L1303.0 76.7L1303.5 76.2L1304.0 75.7L1304.5 75.3L1305.0 74.8L1305.5 74.4L1306.0 73.9L1306.5 73.5L1307.0 73.1L1307.5 72.7L1308.0 72.2L1308.5 71.8L1309.0 71.4L1309.5 71.0L1310.0 70.6L1310.5 70.2L1311.0 69.8L1311.5 69.4L1312.0 69.0L1312.5 68.7L1313.0 68.3L1313.5 67.9L1314.0 67.6L1314.5 67.2L1315.0 66.9L1315.5 66.5L1316.0 66.2L1316.5 65.8L1317.0 65.5L1317.5 65.2L1318.0 64.9L1318.5 64.5L1319.0 64.2L1319.5 63.9L1320.0 63.6L1320.5 63.3L1321.0 63.0L1321.5 62.7L1322.0 62.5L1322.5 62.2L1323.0 61.9L1323.5 61.6L1324.0 61.4L1324.5 61.1L1325.0 60.9L1325.5 60.6L1326.0 60.4L1326.5 60.1L1327.0 59.9L1327.5 59.7L1328.0 59.4L1328.5 59.2L1329.0 59.0L1329.5 58.8L1330.0 58.6L1330.5 58.4L1331.0 58.2L1331.5 58.0L1332.0 57.8L1332.5 57.7L1333.0 57.5L1333.5 57.3L1334.0 57.2L1334.5 57.0L1335.0 56.9L1335.5 56.7L1336.0 56.6L1336.5 56.4L1337.0 56.3L1337.5 56.2L1338.0 56.1L1338.5 56.0L1339.0 55.8L1339.5 55.7L1340.0 55.7L1340.5 55.6L1341.0 55.5L1341.5 55.4L1342.0 55.3L1342.5 55.3L1343.0 55.2L1343.5 55.2L1344.0 55.1L1344.5 55.1L1345.0 55.1L1345.5 55.0L1346.0 55.0L1346.5 55.0L1347.0 55.0L1347.5 55.0L1348.0 55.0L1348.5 55.0L1349.0 55.1L1349.5 55.1L1350.0 55.1L1350.5 55.2L1351.0 55.3L1351.5 55.3L1352.0 55.4L1352.5 55.5L1353.0 55.6L1353.5 55.7L1354.0 55.8L1354.5 55.9L1355.0 56.0L1355.5 56.1L1356.0 56.2L1356.5 56.3L1357.0 56.5L1357.5 56.6L1358.0 56.8L1358.5 56.9L1359.0 57.1L1359.5 57.2L1360.0 57.4L1360.5 57.5L1361.0 57.7L1361.5 57.9L1362.0 58.0L1362.5 58.2L1363.0 58.4L1363.5 58.6L1364.0 58.8L1364.5 59.0L1365.0 59.1L1365.5 59.3L1366.0 59.5L1366.5 59.7L1367.0 59.9L1367.5 60.1L1368.0 60.3L1368.5 60.5L1369.0 60.7L1369.5 60.9L1370.0 61.1L1370.5 61.4L1371.0 61.6L1371.5 61.9L1372.0 62.2L1372.5 62.5L1373.0 62.8L1373.5 63.1L1374.0 63.5L1374.5 63.8L1375.0 64.2L1375.5 64.6L1376.0 64.9L1376.5 65.3L1377.0 65.7L1377.5 66.2L1378.0 66.6L1378.5 67.0L1379.0 67.4L1379.5 67.9L1380.0 68.3L1380.5 68.8L1381.0 69.3L1381.5 69.7L1382.0 70.2L1382.5 70.7L1383.0 71.1L1383.5 71.6L1384.0 72.1L1384.5 72.6L1385.0 73.1L1385.5 73.6L1386.0 74.1L1386.5 74.5L1387.0 75.0L1387.5 75.5L1388.0 76.0L1388.5 76.5L1389.0 77.0L1389.5 77.5L1390.0 78.0L1390.5 78.5L1391.0 79.1L1391.5 79.6L1392.0 80.1L1392.5 80.7L1393.0 81.3L1393.5 81.8L1394.0 82.4L1394.5 83.0L1395.0 83.5L1395.5 84.1L1396.0 84.7L1396.5 85.3L1397.0 85.9L1397.5 86.6L1398.0 87.2L1398.5 87.8L1399.0 88.4L1399.5 89.0L1400.0 89.7L1400.5 90.3L1401.0 91.0L1401.5 91.6L1402.0 92.3L1402.5 92.9L1403.0 93.6L1403.5 94.2L1404.0 94.9L1404.5 95.6L1405.0 96.2L1405.5 96.9L1406.0 97.6L1406.5 98.2L1407.0 98.9L1407.5 99.6L1408.0 100.3L1408.5 100.9L1409.0 101.6L1409.5 102.3L1410.0 103.0L1410.5 103.7L1411.0 104.3L1411.5 105.0L1412.0 105.7L1412.5 106.4L1413.0 107.1L1413.5 107.7L1414.0 108.4L1414.5 109.1L1415.0 109.8L1415.5 110.5L1416.0 111.2L1416.5 111.9L1417.0 112.6L1417.5 113.3L1418.0 114.0L1418.5 114.7L1419.0 115.5L1419.5 116.2L1420.0 116.9L1420.5 117.6L1421.0 118.4L1421.5 119.1L1422.0 119.9L1422.5 120.6L1423.0 121.4L1423.5 122.1L1424.0 122.9L1424.5 123.6L1425.0 124.4L1425.5 125.2L1426.0 125.9L1426.5 126.7L1427.0 127.5L1427.5 128.3L1428.0 129.1L1428.5 129.9L1429.0 130.7L1429.5 131.5L1430.0 132.3L1430.5 133.1L1431.0 133.9L1431.5 134.8L1432.0 135.6L1432.5 136.4L1433.0 137.3L1433.5 138.1L1434.0 139.0L1434.5 139.9L1435.0 140.7L1435.5 141.6L1436.0 142.5L1436.5 143.4L1437.0 144.3L1437.5 145.2L1438.0 146.1L1438.5 147.0L1439.0 147.9L1439.5 148.9L1440.0 149.8L1440.5 150.7L1441.0 151.7L1441.5 152.6L1442.0 153.6L1442.5 154.5L1443.0 155.5L1443.5 156.5L1444.0 157.5L1444.5 158.4L1445.0 159.4L1445.5 160.4L1446.0 161.4L1446.5 162.4L1447.0 163.4L1447.5 164.4L1448.0 165.5L1448.5 166.5L1449.0 167.5L1449.5 168.5L1450.0 169.6L1450.5 170.6L1451.0 171.7L1451.5 172.7L1452.0 173.8L1452.5 174.9L1453.0 176.0L1453.5 177.1L1454.0 178.2L1454.5 179.3L1455.0 180.4L1455.5 181.6L1456.0 182.7L1456.5 183.9L1457.0 185.0L1457.5 186.2L1458.0 187.3L1458.5 188.5L1459.0 189.7L1459.5 190.9L1460.0 192.0L1460.5 193.2L1461.0 194.4L1461.5 195.6L1462.0 196.8L1462.5 197.9L1463.0 199.1L1463.5 200.3L1464.0 201.5L1464.5 202.7L1465.0 203.9L1465.5 205.0L1466.0 206.2L1466.5 207.4L1467.0 208.6L1467.5 209.8L1468.0 211.0L1468.5 212.2L1469.0 213.4L1469.5 214.6L1470.0 215.9L1470.5 217.1L1471.0 218.3L1471.5 219.5L1472.0 220.7L1472.5 222.0L1473.0 223.2L1473.5 224.4L1474.0 225.6L1474.5 226.9L1475.0 228.1L1475.5 229.3L1476.0 230.5L1476.5 231.8L1477.0 233.0L1477.5 234.2L1478.0 235.5L1478.5 236.7L1479.0 237.9L1479.5 239.1L1480.0 240.4L1480.5 241.6L1481.0 242.8L1481.5 244.0L1482.0 245.3L1482.5 246.5L1483.0 247.7L1483.5 248.9L1484.0 250.2L1484.5 251.4L1485.0 252.6L1485.5 253.9L1486.0 255.1L1486.5 256.4L1487.0 257.6L1487.5 258.9L1488.0 260.1L1488.5 261.4L1489.0 262.7L1489.5 264.0L1490.0 265.3L1490.5 266.6L1491.0 267.9L1491.5 269.2L1492.0 270.5L1492.5 271.8L1493.0 273.2L1493.5 274.5L1494.0 275.8L1494.5 277.2L1495.0 278.5L1495.5 279.9L1496.0 281.2L1496.5 282.6L1497.0 284.0L1497.5 285.4L1498.0 286.7L1498.5 288.1L1499.0 289.5L1499.5 290.9L1500.0 292.3L1500.5 293.7L1501.0 295.2L1501.5 296.6L1502.0 298.0" stroke="#000" stroke-width="7.5"/>
<path d="M294.0 502.0L294.5 504.0L295.0 509.5L295.5 517.8L296.0 528.2L296.5 540.0L297.0 559.8L297.5 590.9L298.0 628.2L298.5 666.3L299.0 700.0L299.5 730.3L300.0 760.9L300.5 790.7L301.0 818.5L301.5 843.3L302.0 863.8L302.5 879.4L303.0 892.9L303.5 906.3L304.0 919.8L304.5 933.3L305.0 946.8L305.5 960.3L306.0 973.7L306.5 987.2L306.9 998.0L307.0 995.8L307.5 984.7L308.0 973.5L308.5 962.4L309.0 951.3L309.5 940.2L310.0 929.0L310.5 917.9L311.0 906.8L311.5 895.7L312.0 884.6L312.5 873.4L313.0 851.8L313.5 825.3L314.0 797.5L314.5 769.0L315.0 740.0L315.5 711.0L316.0 682.3L316.5 654.4L317.0 627.5L317.5 601.9L318.0 577.8L318.5 555.3L319.0 534.6L319.5 515.6L320.0 498.5L320.5 483.2L321.0 469.5L321.5 457.5L322.0 447.1L322.5 441.0L323.0 436.8L323.5 432.7L324.0 428.7L324.5 424.8L325.0 421.0L325.5 417.3L326.0 415.0L326.5 414.7L327.0 414.4L327.5 414.1L328.0 413.8L328.5 413.5L328.8 413.3L329.0 413.2L329.5 412.9L330.0 412.6L330.5 412.7L331.0 418.2L331.5 424.0L332.0 430.1L332.5 436.4L333.0 443.0L333.5 452.4L334.0 462.8L334.5 473.8L335.0 485.3L335.5 497.2L336.0 509.4L336.5 522.0L337.0 534.9L337.5 547.9L338.0 561.1L338.5 574.4L339.0 587.7L339.5 601.0L340.0 614.2L340.5 627.3L341.0 640.2L341.5 652.9L342.0 665.2L342.5 676.4L343.0 683.5L343.5 690.6L344.0 697.7L344.5 704.8L345.0 712.0L345.5 719.1L346.0 726.2L346.5 733.3L347.0 740.4L347.5 747.5L348.0 754.7L348.2 757.5L348.5 753.7L349.0 747.5L349.5 741.2L350.0 734.9L350.5 728.6L351.0 722.3L351.5 716.1L352.0 709.8L352.5 703.5L353.0 697.2L353.5 690.9L354.0 684.7L354.5 678.4L355.0 668.9L355.5 655.6L356.0 641.6L356.5 627.1L357.0 612.2L357.5 596.9L358.0 581.5L358.5 565.9L359.0 550.2L359.5 534.6L360.0 519.2L360.5 503.9L361.0 489.0L361.5 474.3L362.0 460.1L362.5 446.3L363.0 432.9L363.5 420.1L364.0 407.7L364.5 395.9L365.0 384.5L365.5 373.8L366.0 363.5L366.5 353.8L367.0 344.6L367.5 336.0L368.0 327.8L368.5 320.2L369.0 313.1L369.5 307.3L370.0 302.8L370.5 298.5L371.0 294.3L371.5 292.6L372.0 292.4L372.5 292.1L373.0 291.8L373.5 291.6L374.0 291.3L374.5 291.0L375.0 290.7L375.5 290.4L376.0 290.2L376.5 289.9L377.0 289.6L377.5 289.4L378.0 290.3L378.5 293.8L379.0 297.4L379.5 301.2L380.0 305.0L380.5 308.9L381.0 313.7L381.5 318.9L382.0 324.5L382.5 330.6L383.0 337.1L383.5 344.2L384.0 351.8L384.5 360.1L385.0 369.0L385.5 378.6L386.0 388.9L386.5 399.9L387.0 411.7L387.5 424.3L388.0 437.6L388.5 451.7L389.0 466.4L389.5 481.9L390.0 498.0L390.5 514.7L391.0 532.0L391.5 549.7L392.0 567.8L392.5 586.3L393.0 605.1L393.5 624.1L394.0 643.2L394.5 662.3L395.0 681.4L395.5 700.5L396.0 719.4L396.5 738.1L397.0 756.6L397.5 774.8L398.0 792.8L398.5 810.4L399.0 827.6L399.5 844.5L400.0 861.1L400.5 877.2L401.0 893.0L401.5 908.3L402.0 920.3L402.5 930.3L403.0 940.3L403.5 950.3L404.0 960.3L404.5 970.3L405.0 980.2L405.5 990.2L406.0 1000.2L406.5 1010.2L406.7 1014.2L407.0 1010.0L407.5 1003.0L408.0 996.0L408.5 989.0L409.0 982.1L409.5 975.1L410.0 968.1L410.5 961.1L411.0 954.1L411.5 947.1L412.0 940.1L412.5 933.1L413.0 926.1L413.5 919.2L414.0 910.2L414.5 896.8L415.0 882.9L415.5 868.6L416.0 853.8L416.5 838.7L417.0 823.3L417.5 807.7L418.0 792.0L418.5 776.2L419.0 760.3L419.5 744.5L420.0 728.7L420.5 713.1L421.0 697.7L421.5 682.6L422.0 667.7L422.5 653.2L423.0 639.1L423.5 625.4L424.0 612.1L424.5 599.3L425.0 587.0L425.5 575.2L426.0 564.0L426.5 553.3L427.0 543.2L427.5 533.7L428.0 524.7L428.5 516.4L429.0 508.6L429.5 501.4L430.0 494.7L430.5 488.7L431.0 483.1L431.5 478.1L432.0 473.6L432.5 469.6L433.0 466.0L433.5 462.9L434.0 460.2L434.5 459.0L435.0 459.0L435.5 459.0L436.0 459.0L436.5 459.0L437.0 459.0L437.5 459.0L438.0 459.0L438.3 459.0L438.5 459.0L439.0 459.0L439.5 459.0L440.0 459.0L440.5 459.0L441.0 459.0L441.5 459.0L442.0 460.8L442.5 463.7L443.0 466.9L443.5 470.5L444.0 474.4L444.5 478.7L445.0 483.3L445.5 488.3L446.0 493.6L446.5 499.1L447.0 505.0L447.5 511.2L448.0 517.7L448.5 524.4L449.0 531.3L449.5 538.5L450.0 545.9L450.5 553.4L451.0 561.2L451.5 569.0L452.0 577.0L452.5 585.1L453.0 593.3L453.5 601.5L454.0 609.7L454.5 618.0L455.0 626.2L455.5 634.3L456.0 642.4L456.5 650.3L457.0 658.1L457.5 665.7L458.0 673.1L458.5 680.0L459.0 684.0L459.5 688.0L460.0 692.0L460.5 695.9L461.0 699.9L461.5 703.9L462.0 707.9L462.5 711.9L463.0 715.9L463.5 719.9L464.0 723.9L464.5 727.8L465.0 731.8L465.5 735.8L466.0 739.8L466.5 743.8L467.0 740.1L467.5 736.4L468.0 732.6L468.5 728.9L469.0 725.2L469.5 721.5L470.0 717.7L470.5 714.0L471.0 710.3L471.5 706.6L472.0 702.8L472.5 699.1L473.0 695.4L473.5 691.7L474.0 687.9L474.5 684.2L475.0 680.5L475.5 673.6L476.0 665.1L476.5 656.3L477.0 647.1L477.5 637.5L478.0 627.6L478.5 617.4L479.0 607.0L479.5 596.3L480.0 585.4L480.5 574.3L481.0 563.1L481.5 551.8L482.0 540.4L482.5 529.0L483.0 517.5L483.5 506.1L484.0 494.7L484.5 483.4L485.0 472.2L485.5 461.1L486.0 450.1L486.5 439.3L487.0 428.7L487.5 418.3L488.0 408.1L488.5 398.2L489.0 388.4L489.5 378.9L490.0 369.7L490.5 360.7L491.0 352.0L491.5 343.5L492.0 335.4L492.5 327.5L493.0 319.8L493.5 312.4L494.0 305.3L494.5 298.5L495.0 291.9L495.5 285.5L496.0 279.4L496.5 273.5L497.0 267.9L497.5 262.5L498.0 257.3L498.5 252.3L499.0 247.5L499.5 242.9L500.0 238.5L500.5 234.2L501.0 230.2L501.5 226.2L502.0 222.8L502.5 219.6L503.0 216.6L503.5 213.6L504.0 210.7L504.5 207.8L505.0 205.1L505.5 202.4L506.0 199.8L506.5 197.3L507.0 194.8L507.5 192.5L508.0 190.3L508.5 188.1L509.0 186.1L509.5 184.2L510.0 182.4L510.5 180.7L511.0 179.1L511.5 178.2L512.0 178.2L512.5 178.2L513.0 178.2L513.5 178.2L514.0 178.2L514.5 178.2L515.0 178.2L515.5 178.2L516.0 179.7L516.5 181.4L517.0 183.3L517.5 185.3L518.0 187.5L518.5 189.7L519.0 192.1L519.5 194.6L520.0 197.2L520.5 200.0L521.0 202.8L521.5 205.7L522.0 208.7L522.5 211.7L523.0 214.9L523.5 218.2L524.0 221.5L524.5 225.1L525.0 229.3L525.5 233.7L526.0 238.3L526.5 243.0L527.0 247.9L527.5 253.0L528.0 258.2L528.5 263.6L529.0 269.1L529.5 274.9L530.0 280.8L530.5 286.8L531.0 293.1L531.5 299.5L532.0 306.1L532.5 312.9L533.0 319.8L533.5 327.0L534.0 334.3L534.5 341.9L535.0 349.6L535.5 357.5L536.0 365.6L536.5 373.9L537.0 382.4L537.5 391.1L538.0 399.9L538.5 409.0L539.0 418.3L539.5 427.8L540.0 437.5L540.5 447.4L541.0 457.4L541.5 467.7L542.0 478.2L542.5 488.9L543.0 499.8L543.5 510.9L544.0 522.1L544.5 533.6L545.0 545.2L545.5 557.0L546.0 569.0L546.5 581.2L547.0 593.5L547.5 606.0L548.0 618.6L548.5 631.4L549.0 644.3L549.5 657.2L550.0 670.3L550.5 683.5L551.0 696.8L551.5 710.1L552.0 723.4L552.5 736.7L553.0 750.1L553.5 763.4L554.0 776.6L554.5 789.8L555.0 802.9L555.5 815.9L556.0 828.7L556.5 841.3L557.0 853.7L557.5 865.9L558.0 877.8L558.5 889.4L559.0 900.6L559.5 911.5L560.0 922.0L560.5 932.1L561.0 941.8L561.5 950.9L562.0 959.6L562.5 967.7L563.0 975.3L563.5 979.1L564.0 982.6L564.5 986.1L565.0 989.6L565.5 993.1L566.0 996.6L566.5 1000.1L567.0 1003.6L567.5 1007.0L568.0 1010.5L568.5 1014.0L569.0 1017.5L569.5 1021.0L570.0 1018.4L570.5 1015.8L571.0 1013.2L571.5 1010.6L572.0 1008.0L572.5 1005.4L573.0 1002.9L573.5 1000.3L574.0 997.7L574.5 995.1L575.0 992.5L575.5 989.9L576.0 987.3L576.5 984.7L577.0 982.1L577.5 979.5L578.0 976.9L578.5 972.5L579.0 966.8L579.5 960.8L580.0 954.6L580.5 948.0L581.0 941.3L581.5 934.3L582.0 927.0L582.5 919.6L583.0 912.0L583.5 904.2L584.0 896.2L584.5 888.1L585.0 879.9L585.5 871.5L586.0 863.1L586.5 854.6L587.0 846.0L587.5 837.4L588.0 828.7L588.5 820.1L589.0 811.4L589.5 802.7L590.0 794.1L590.5 785.4L591.0 776.9L591.5 768.4L592.0 759.9L592.5 751.6L593.0 743.3L593.5 735.1L594.0 727.0L594.5 719.1L595.0 711.2L595.5 703.5L596.0 695.9L596.5 688.5L597.0 681.2L597.5 674.1L598.0 667.1L598.5 660.2L599.0 653.5L599.5 647.0L600.0 640.7L600.5 634.5L601.0 628.4L601.5 622.6L602.0 616.9L602.5 611.3L603.0 606.0L603.5 600.8L604.0 595.8L604.5 590.9L605.0 586.2L605.5 581.7L606.0 577.3L606.5 573.1L607.0 569.1L607.5 565.2L608.0 561.5L608.5 557.9L609.0 554.5L609.5 551.2L610.0 548.1L610.5 545.2L611.0 542.3L611.5 539.7L612.0 537.2L612.5 534.8L613.0 532.5L613.5 530.4L614.0 528.5L614.5 526.6L615.0 524.9L615.5 523.3L616.0 521.9L616.5 520.6L617.0 519.4L617.5 518.5L618.0 518.5L618.5 518.5L619.0 518.5L619.5 518.5L620.0 518.5L620.5 518.5L621.0 518.5L621.5 518.5L622.0 518.5L622.4 518.5L622.5 518.5L623.0 518.5L623.5 518.5L624.0 518.5L624.5 518.5L625.0 518.5L625.5 518.5L626.0 518.5L626.5 518.5L627.0 519.3L627.5 520.6L628.0 522.0L628.5 523.5L629.0 525.2L629.5 527.0L630.0 529.0L630.5 531.0L631.0 533.2L631.5 535.4L632.0 537.8L632.5 540.3L633.0 542.9L633.5 545.6L634.0 548.4L634.5 551.3L635.0 554.3L635.5 557.4L636.0 560.6L636.5 563.9L637.0 567.3L637.5 570.7L638.0 574.2L638.5 577.8L639.0 581.5L639.5 585.2L640.0 589.0L640.5 592.9L641.0 596.8L641.5 600.8L642.0 604.8L642.5 608.8L643.0 612.9L643.5 617.1L644.0 621.2L644.5 625.4L645.0 629.7L645.5 633.9L646.0 638.1L646.5 642.4L647.0 646.7L647.5 650.9L648.0 655.2L648.5 659.5L649.0 663.7L649.5 667.9L650.0 672.2L650.5 676.3L651.0 680.5L651.5 684.6L652.0 688.7L652.5 692.7L653.0 696.6L653.5 700.5L654.0 704.4L654.5 708.0L655.0 711.2L655.5 714.4L656.0 717.4L656.5 720.4L657.0 723.4L657.5 726.3L658.0 729.1L658.5 731.8L659.0 734.5L659.5 737.1L660.0 739.7L660.5 742.1L661.0 744.5L661.5 746.8L662.0 749.0L662.5 751.2L663.0 753.2L663.5 755.1L664.0 757.0L664.5 758.7L665.0 760.4L665.5 761.9L666.0 763.3L666.5 764.5L667.0 765.6L667.5 766.5L668.0 767.1L668.3 767.3L668.5 767.2L669.0 766.6L669.5 765.8L670.0 764.8L670.5 763.6L671.0 762.2L671.5 760.7L672.0 759.1L672.5 757.4L673.0 755.6L673.5 753.7L674.0 751.7L674.5 749.6L675.0 747.4L675.5 745.1L676.0 742.8L676.5 740.4L677.0 737.9L677.5 735.3L678.0 732.7L678.5 729.9L679.0 727.2L679.5 724.3L680.0 721.4L680.5 718.4L681.0 715.4L681.5 712.3L682.0 709.2L682.5 705.5L683.0 701.0L683.5 696.4L684.0 691.7L684.5 686.9L685.0 681.9L685.5 676.9L686.0 671.7L686.5 666.4L687.0 661.0L687.5 655.5L688.0 649.9L688.5 644.2L689.0 638.5L689.5 632.7L690.0 626.8L690.5 620.8L691.0 614.8L691.5 608.7L692.0 602.5L692.5 596.3L693.0 590.1L693.5 583.8L694.0 577.5L694.5 571.1L695.0 564.8L695.5 558.3L696.0 551.9L696.5 545.5L697.0 539.0L697.5 532.6L698.0 526.1L698.5 519.6L699.0 513.2L699.5 506.7L700.0 500.3L700.5 493.8L701.0 487.4L701.5 481.0L702.0 474.6L702.5 468.3L703.0 461.9L703.5 455.6L704.0 449.4L704.5 443.1L705.0 436.9L705.5 430.8L706.0 424.6L706.5 418.6L707.0 412.5L707.5 406.5L708.0 400.6L708.5 394.7L709.0 388.8L709.5 383.1L710.0 377.3L710.5 371.6L711.0 366.0L711.5 360.4L712.0 354.9L712.5 349.5L713.0 344.1L713.5 338.7L714.0 333.5L714.5 328.3L715.0 323.1L715.5 318.0L716.0 313.0L716.5 308.1L717.0 303.2L717.5 298.4L718.0 293.6L718.5 288.9L719.0 284.3L719.5 279.8L720.0 275.3L720.5 270.9L721.0 266.5L721.5 262.3L722.0 258.0L722.5 253.9L723.0 249.8L723.5 245.8L724.0 241.9L724.5 238.0L725.0 234.2L725.5 230.5L726.0 226.8L726.5 223.2L727.0 219.7L727.5 216.2L728.0 212.8L728.5 209.5L729.0 206.2L729.5 203.0L730.0 199.8L730.5 196.7L731.0 193.7L731.5 190.8L732.0 187.9L732.5 185.0L733.0 182.3L733.5 179.6L734.0 176.9L734.5 174.3L735.0 171.8L735.5 169.3L736.0 166.9L736.5 164.5L737.0 162.2L737.5 159.9L738.0 157.7L738.5 155.6L739.0 153.5L739.5 151.4L740.0 149.4L740.5 147.5L741.0 145.6L741.5 143.7L742.0 141.9L742.5 140.2L743.0 138.5L743.5 136.8L744.0 135.2L744.5 133.6L745.0 132.1L745.5 130.6L746.0 129.1L746.5 127.7L747.0 126.4L747.5 125.0L748.0 123.8L748.5 122.5L749.0 121.3L749.5 120.1L750.0 119.0L750.5 117.9L751.0 116.8L751.5 115.8L752.0 114.8L752.5 113.9L753.0 113.0L753.5 112.1L754.0 111.8L754.5 112.0L755.0 112.2L755.5 112.4L756.0 112.6L756.5 112.7L757.0 112.9L757.5 113.1L758.0 113.3L758.5 113.5L759.0 113.7L759.5 113.9L760.0 114.0L760.5 114.2L761.0 114.4L761.5 114.6L762.0 114.8L762.5 115.0L762.6 115.0L763.0 115.1L763.5 115.3L764.0 115.5L764.5 115.7L765.0 115.9L765.5 116.1L766.0 116.3L766.5 116.4L767.0 116.6L767.5 116.8L768.0 117.0L768.5 117.2L769.0 117.4L769.5 117.6L770.0 117.7L770.5 117.9L771.0 118.1L771.5 118.3L772.0 118.5L772.5 118.7L773.0 118.8L773.5 119.0L774.0 119.2L774.5 119.4L775.0 119.6L775.5 119.8L776.0 120.0L776.5 120.6L777.0 121.8L777.5 123.1L778.0 124.4L778.5 125.7L779.0 127.1L779.5 128.5L780.0 130.0L780.5 131.5L781.0 133.1L781.5 134.7L782.0 136.3L782.5 138.0L783.0 139.7L783.5 141.5L784.0 143.3L784.5 145.1L785.0 147.0L785.5 148.9L786.0 150.9L786.5 152.9L787.0 155.0L787.5 157.1L788.0 159.2L788.5 161.4L789.0 163.6L789.5 165.9L790.0 168.2L790.5 170.6L791.0 173.0L791.5 175.4L792.0 177.9L792.5 180.5L793.0 183.0L793.5 185.7L794.0 188.3L794.5 191.1L795.0 193.8L795.5 196.6L796.0 199.5L796.5 202.4L797.0 205.4L797.5 208.4L798.0 211.4L798.5 214.5L799.0 217.7L799.5 220.8L800.0 224.1L800.5 227.4L801.0 230.7L801.5 234.1L802.0 237.5L802.5 241.0L803.0 244.6L803.5 248.1L804.0 251.8L804.5 255.5L805.0 259.2L805.5 263.0L806.0 266.8L806.5 270.7L807.0 274.7L807.5 278.7L808.0 282.7L808.5 286.8L809.0 291.0L809.5 295.2L810.0 299.4L810.5 303.7L811.0 308.1L811.5 312.5L812.0 316.9L812.5 321.4L813.0 326.0L813.5 330.6L814.0 335.3L814.5 340.0L815.0 344.8L815.5 349.6L816.0 354.4L816.5 359.4L817.0 364.3L817.5 369.3L818.0 374.4L818.5 379.5L819.0 384.7L819.5 389.9L820.0 395.2L820.5 400.5L821.0 405.8L821.5 411.2L822.0 416.7L822.5 422.2L823.0 427.7L823.5 433.3L824.0 439.0L824.5 444.6L825.0 450.4L825.5 456.1L826.0 461.9L826.5 467.8L827.0 473.6L827.5 479.6L828.0 485.5L828.5 491.5L829.0 497.5L829.5 503.6L830.0 509.7L830.5 515.8L831.0 522.0L831.5 528.2L832.0 534.4L832.5 540.7L833.0 547.0L833.5 553.3L834.0 559.6L834.5 565.9L835.0 572.3L835.5 578.7L836.0 585.1L836.5 591.6L837.0 598.0L837.5 604.5L838.0 610.9L838.5 617.4L839.0 623.9L839.5 630.4L840.0 636.9L840.5 643.4L841.0 650.0L841.5 656.5L842.0 663.0L842.5 669.5L843.0 676.0L843.5 682.5L844.0 689.0L844.5 695.5L845.0 702.0L845.5 708.5L846.0 714.9L846.5 721.4L847.0 727.8L847.5 734.2L848.0 740.6L848.5 746.9L849.0 753.2L849.5 759.5L850.0 765.8L850.5 772.0L851.0 778.2L851.5 784.4L852.0 790.5L852.5 796.5L853.0 802.6L853.5 808.6L854.0 814.5L854.5 820.4L855.0 826.2L855.5 832.0L856.0 837.8L856.5 843.4L857.0 849.1L857.5 854.6L858.0 860.1L858.5 865.5L859.0 870.9L859.5 876.2L860.0 881.4L860.5 886.6L861.0 891.6L861.5 896.6L862.0 901.5L862.5 906.4L863.0 911.1L863.5 915.8L864.0 920.4L864.5 924.9L865.0 929.3L865.5 933.7L866.0 937.9L866.5 942.0L867.0 946.1L867.5 950.0L868.0 953.9L868.5 957.6L869.0 961.3L869.5 964.8L870.0 968.2L870.5 971.6L871.0 974.8L871.5 977.9L872.0 981.0L872.5 983.9L873.0 986.7L873.5 989.3L874.0 991.9L874.5 994.3L875.0 996.7L875.5 998.9L876.0 1001.0L876.5 1003.0L877.0 1004.5L877.5 1004.5L878.0 1004.5L878.5 1004.5L879.0 1004.5L879.5 1004.5L880.0 1004.5L880.5 1004.5L881.0 1004.5L881.5 1004.5L882.0 1004.5L882.5 1004.5L883.0 1004.5L883.5 1004.5L884.0 1004.5L884.2 1004.5L884.5 1004.5L885.0 1004.5L885.5 1004.5L886.0 1004.5L886.5 1004.5L887.0 1004.5L887.5 1004.5L888.0 1004.5L888.5 1004.5L889.0 1004.5L889.5 1004.5L890.0 1004.5L890.5 1004.5L891.0 1004.5L891.5 1004.5L892.0 1004.5L892.5 1004.3L893.0 1002.7L893.5 1001.0L894.0 999.2L894.5 997.3L895.0 995.4L895.5 993.4L896.0 991.3L896.5 989.1L897.0 986.9L897.5 984.6L898.0 982.2L898.5 979.8L899.0 977.3L899.5 974.8L900.0 972.2L900.5 969.5L901.0 966.8L901.5 964.0L902.0 961.2L902.5 958.4L903.0 955.5L903.5 952.5L904.0 949.5L904.5 946.5L905.0 943.4L905.5 940.3L906.0 937.1L906.5 933.9L907.0 930.7L907.5 927.4L908.0 924.1L908.5 920.8L909.0 917.5L909.5 914.1L910.0 910.7L910.5 907.3L911.0 903.9L911.5 900.4L912.0 896.9L912.5 893.4L913.0 889.9L913.5 886.4L914.0 882.9L914.5 879.3L915.0 875.8L915.5 872.2L916.0 868.6L916.5 865.0L917.0 861.4L917.5 857.8L918.0 854.2L918.5 850.6L919.0 847.0L919.5 843.4L920.0 839.8L920.5 836.1L921.0 832.5L921.5 828.9L922.0 825.3L922.5 821.7L923.0 818.1L923.5 814.5L924.0 811.0L924.5 807.4L925.0 803.8L925.5 800.3L926.0 796.7L926.5 793.2L927.0 789.7L927.5 786.2L928.0 782.7L928.5 779.2L929.0 775.8L929.5 772.3L930.0 768.9L930.5 765.5L931.0 762.1L931.5 758.7L932.0 755.3L932.5 752.0L933.0 748.7L933.5 745.4L934.0 742.1L934.5 738.9L935.0 735.7L935.5 732.5L936.0 729.3L936.5 726.1L937.0 723.0L937.5 719.9L938.0 716.8L938.5 713.8L939.0 710.8L939.5 707.8L940.0 704.8L940.5 701.9L941.0 699.0L941.5 696.1L942.0 693.3L942.5 690.5L943.0 687.7L943.5 684.9L944.0 682.2L944.5 679.5L945.0 676.9L945.5 674.3L946.0 671.7L946.5 669.2L947.0 666.6L947.5 664.2L948.0 661.7L948.5 659.3L949.0 656.9L949.5 654.6L950.0 652.3L950.5 650.0L951.0 647.8L951.5 645.6L952.0 643.5L952.5 641.4L953.0 639.3L953.5 637.2L954.0 635.2L954.5 633.3L955.0 631.3L955.5 629.4L956.0 627.6L956.5 625.8L957.0 624.0L957.5 622.2L958.0 620.5L958.5 618.9L959.0 617.3L959.5 615.7L960.0 614.1L960.5 612.6L961.0 611.1L961.5 609.7L962.0 608.3L962.5 606.9L963.0 605.6L963.5 604.3L964.0 603.0L964.5 601.8L965.0 600.6L965.5 599.5L966.0 598.4L966.5 597.3L967.0 596.2L967.5 595.2L968.0 594.3L968.5 593.3L969.0 592.4L969.5 591.5L970.0 590.7L970.5 589.9L971.0 589.1L971.5 588.3L972.0 587.6L972.5 586.9L973.0 586.3L973.5 585.6L974.0 585.0L974.5 584.5L975.0 583.9L975.5 583.4L976.0 582.9L976.5 582.4L977.0 582.0L977.5 581.6L978.0 581.2L978.5 580.8L979.0 580.4L979.5 580.1L980.0 579.8L980.5 579.5L981.0 579.3L981.5 579.3L982.0 579.3L982.5 579.3L983.0 579.3L983.5 579.3L984.0 579.3L984.5 579.3L985.0 579.3L985.5 579.3L986.0 579.3L986.5 579.3L987.0 579.3L987.5 579.3L988.0 579.3L988.5 579.3L989.0 579.3L989.5 579.3L989.7 579.3L990.0 579.3L990.5 579.3L991.0 579.3L991.5 579.3L992.0 579.3L992.5 579.3L993.0 579.3L993.5 579.3L994.0 579.3L994.5 579.3L995.0 579.3L995.5 579.3L996.0 579.3L996.5 579.4L997.0 579.7L997.5 580.0L998.0 580.4L998.5 580.8L999.0 581.2L999.5 581.7L1000.0 582.1L1000.5 582.6L1001.0 583.2L1001.5 583.7L1002.0 584.3L1002.5 584.9L1003.0 585.5L1003.5 586.1L1004.0 586.8L1004.5 587.5L1005.0 588.2L1005.5 588.9L1006.0 589.7L1006.5 590.5L1007.0 591.3L1007.5 592.2L1008.0 593.0L1008.5 593.9L1009.0 594.8L1009.5 595.8L1010.0 596.7L1010.5 597.7L1011.0 598.8L1011.5 599.8L1012.0 600.9L1012.5 601.9L1013.0 603.1L1013.5 604.2L1014.0 605.4L1014.5 606.5L1015.0 607.7L1015.5 609.0L1016.0 610.2L1016.5 611.5L1017.0 612.8L1017.5 614.1L1018.0 615.4L1018.5 616.8L1019.0 618.2L1019.5 619.6L1020.0 621.0L1020.5 622.5L1021.0 623.9L1021.5 625.4L1022.0 626.9L1022.5 628.4L1023.0 630.0L1023.5 631.5L1024.0 633.1L1024.5 634.7L1025.0 636.3L1025.5 637.9L1026.0 639.6L1026.5 641.3L1027.0 642.9L1027.5 644.6L1028.0 646.3L1028.5 648.0L1029.0 649.8L1029.5 651.5L1030.0 653.3L1030.5 655.1L1031.0 656.9L1031.5 658.7L1032.0 660.5L1032.5 662.3L1033.0 664.1L1033.5 666.0L1034.0 667.8L1034.5 669.7L1035.0 671.5L1035.5 673.4L1036.0 675.3L1036.5 677.2L1037.0 679.1L1037.5 681.0L1038.0 682.9L1038.5 684.8L1039.0 686.7L1039.5 688.6L1040.0 690.5L1040.5 692.4L1041.0 694.4L1041.5 696.3L1042.0 698.2L1042.5 700.1L1043.0 702.0L1043.5 704.0L1044.0 705.9L1044.5 707.8L1045.0 709.7L1045.5 711.6L1046.0 713.5L1046.5 715.4L1047.0 717.3L1047.5 719.2L1048.0 721.1L1048.5 723.0L1049.0 724.9L1049.5 726.7L1050.0 728.6L1050.5 730.5L1051.0 732.3L1051.5 734.1L1052.0 735.9L1052.5 737.7L1053.0 739.5L1053.5 741.3L1054.0 743.1L1054.5 744.9L1055.0 746.6L1055.5 748.3L1056.0 750.1L1056.5 751.8L1057.0 753.4L1057.5 755.1L1058.0 756.8L1058.5 758.4L1059.0 760.0L1059.5 761.6L1060.0 763.2L1060.5 764.8L1061.0 766.3L1061.5 767.9L1062.0 769.4L1062.5 770.9L1063.0 772.3L1063.5 773.8L1064.0 775.2L1064.5 776.6L1065.0 778.0L1065.5 779.4L1066.0 780.7L1066.5 782.0L1067.0 783.3L1067.5 784.6L1068.0 785.8L1068.5 787.1L1069.0 788.3L1069.5 789.5L1070.0 790.6L1070.5 791.7L1071.0 792.8L1071.5 793.9L1072.0 795.0L1072.5 796.0L1073.0 797.0L1073.5 798.0L1074.0 798.9L1074.5 799.8L1075.0 800.7L1075.5 801.6L1076.0 802.4L1076.5 803.3L1077.0 804.1L1077.5 804.8L1078.0 805.6L1078.5 806.3L1079.0 807.0L1079.5 807.6L1080.0 808.2L1080.5 808.8L1081.0 809.4L1081.5 810.0L1082.0 810.5L1082.5 811.0L1083.0 811.5L1083.5 811.9L1084.0 812.3L1084.5 812.7L1085.0 813.1L1085.5 813.4L1086.0 813.7L1086.5 814.0L1087.0 814.3L1087.5 814.5L1088.0 814.7L1088.5 814.9L1089.0 815.1L1089.5 815.2L1090.0 815.3L1090.5 815.4L1091.0 815.5L1091.5 815.5L1092.0 815.5L1092.5 815.5L1093.0 815.4L1093.5 815.4L1094.0 815.2L1094.5 815.1L1095.0 814.9L1095.5 814.7L1096.0 814.4L1096.5 814.2L1097.0 813.8L1097.5 813.5L1098.0 813.1L1098.5 812.7L1099.0 812.2L1099.5 811.7L1100.0 811.2L1100.5 810.7L1101.0 810.1L1101.5 809.4L1102.0 808.8L1102.5 808.1L1103.0 807.4L1103.5 806.6L1104.0 805.8L1104.5 805.0L1105.0 804.1L1105.5 803.2L1106.0 802.3L1106.5 801.3L1107.0 800.3L1107.5 799.2L1108.0 798.2L1108.5 797.1L1109.0 795.9L1109.5 794.8L1110.0 793.6L1110.5 792.3L1111.0 791.0L1111.5 789.7L1112.0 788.4L1112.5 787.0L1113.0 785.6L1113.5 784.2L1114.0 782.7L1114.5 781.2L1115.0 779.7L1115.5 778.2L1116.0 776.6L1116.5 775.0L1117.0 773.3L1117.5 771.6L1118.0 769.9L1118.5 768.2L1119.0 766.4L1119.5 764.6L1120.0 762.8L1120.5 760.9L1121.0 759.1L1121.5 757.2L1122.0 755.2L1122.5 753.3L1123.0 751.3L1123.5 749.3L1124.0 747.2L1124.5 745.2L1125.0 743.1L1125.5 741.0L1126.0 738.8L1126.5 736.7L1127.0 734.5L1127.5 732.3L1128.0 730.0L1128.5 727.8L1129.0 725.5L1129.5 723.2L1130.0 720.9L1130.5 718.5L1131.0 716.2L1131.5 713.8L1132.0 711.4L1132.5 709.0L1133.0 706.5L1133.5 704.1L1134.0 701.6L1134.5 699.1L1135.0 696.6L1135.5 694.0L1136.0 691.5L1136.5 688.9L1137.0 686.4L1137.5 683.8L1138.0 681.1L1138.5 678.5L1139.0 675.9L1139.5 673.2L1140.0 670.5L1140.5 667.9L1141.0 665.2L1141.5 662.5L1142.0 659.7L1142.5 657.0L1143.0 654.3L1143.5 651.5L1144.0 648.7L1144.5 646.0L1145.0 643.2L1145.5 640.4L1146.0 637.6L1146.5 634.8L1147.0 631.9L1147.5 629.1L1148.0 626.3L1148.5 623.4L1149.0 620.5L1149.5 617.7L1150.0 614.8L1150.5 611.9L1151.0 609.1L1151.5 606.2L1152.0 603.3L1152.5 600.4L1153.0 597.5L1153.5 594.6L1154.0 591.7L1154.5 588.8L1155.0 585.8L1155.5 582.9L1156.0 580.0L1156.5 577.1L1157.0 574.1L1157.5 571.2L1158.0 568.3L1158.5 565.4L1159.0 562.4L1159.5 559.5L1160.0 556.6L1160.5 553.6L1161.0 550.7L1161.5 547.8L1162.0 544.8L1162.5 541.9L1163.0 539.0L1163.5 536.1L1164.0 533.1L1164.5 530.2L1165.0 527.3L1165.5 524.4L1166.0 521.5L1166.5 518.5L1167.0 515.6L1167.5 512.7L1168.0 509.8L1168.5 506.9L1169.0 504.0L1169.5 501.2L1170.0 498.3L1170.5 495.4L1171.0 492.5L1171.5 489.6L1172.0 486.8L1172.5 483.9L1173.0 481.1L1173.5 478.2L1174.0 475.4L1174.5 472.6L1175.0 469.7L1175.5 466.9L1176.0 464.1L1176.5 461.3L1177.0 458.5L1177.5 455.7L1178.0 452.9L1178.5 450.1L1179.0 447.4L1179.5 444.6L1180.0 441.9L1180.5 439.1L1181.0 436.4L1181.5 433.6L1182.0 430.9L1182.5 428.2L1183.0 425.5L1183.5 422.8L1184.0 420.1L1184.5 417.5L1185.0 414.8L1185.5 412.1L1186.0 409.5L1186.5 406.9L1187.0 404.2L1187.5 401.6L1188.0 399.0L1188.5 396.4L1189.0 393.8L1189.5 391.3L1190.0 388.7L1190.5 386.1L1191.0 383.6L1191.5 381.1L1192.0 378.5L1192.5 376.0L1193.0 373.5L1193.5 371.0L1194.0 368.5L1194.5 366.1L1195.0 363.6L1195.5 361.2L1196.0 358.7L1196.5 356.3L1197.0 353.9L1197.5 351.5L1198.0 349.1L1198.5 346.7L1199.0 344.3L1199.5 342.0L1200.0 339.6L1200.5 337.3L1201.0 335.0L1201.5 332.7L1202.0 330.4L1202.5 328.1L1203.0 325.8L1203.5 323.5L1204.0 321.3L1204.5 319.1L1205.0 316.8L1205.5 314.6L1206.0 312.4L1206.5 310.2L1207.0 308.0L1207.5 305.9L1208.0 303.7L1208.5 301.5L1209.0 299.4L1209.5 297.3L1210.0 295.2L1210.5 293.1L1211.0 291.0L1211.5 288.9L1212.0 286.8L1212.5 284.8L1213.0 282.8L1213.5 280.7L1214.0 278.7L1214.5 276.7L1215.0 274.7L1215.5 272.7L1216.0 270.8L1216.5 268.8L1217.0 266.9L1217.5 264.9L1218.0 263.0L1218.5 261.1L1219.0 259.2L1219.5 257.3L1220.0 255.4L1220.5 253.6L1221.0 251.7L1221.5 249.9L1222.0 248.0L1222.5 246.2L1223.0 244.4L1223.5 242.6L1224.0 240.8L1224.5 239.1L1225.0 237.3L1225.5 235.5L1226.0 233.8L1226.5 232.1L1227.0 230.4L1227.5 228.7L1228.0 227.0L1228.5 225.3L1229.0 223.6L1229.5 222.0L1230.0 220.3L1230.5 218.7L1231.0 217.0L1231.5 215.4L1232.0 213.8L1232.5 212.2L1233.0 210.6L1233.5 209.1L1234.0 207.5L1234.5 206.0L1235.0 204.4L1235.5 202.9L1236.0 201.4L1236.5 199.9L1237.0 198.4L1237.5 196.9L1238.0 195.4L1238.5 193.9L1239.0 192.5L1239.5 191.0L1240.0 189.6L1240.5 188.2L1241.0 186.8L1241.5 185.4L1242.0 184.0L1242.5 182.6L1243.0 181.2L1243.5 179.8L1244.0 178.5L1244.5 177.1L1245.0 175.8L1245.5 174.5L1246.0 173.2L1246.5 171.9L1247.0 170.6L1247.5 169.3L1248.0 168.0L1248.5 166.8L1249.0 165.5L1249.5 164.3L1250.0 163.0L1250.5 161.8L1251.0 160.6L1251.5 159.4L1252.0 158.2L1252.5 157.0L1253.0 155.8L1253.5 154.6L1254.0 153.5L1254.5 152.3L1255.0 151.2L1255.5 150.0L1256.0 148.9L1256.5 147.8L1257.0 146.7L1257.5 145.6L1258.0 144.5L1258.5 143.4L1259.0 142.3L1259.5 141.3L1260.0 140.2L1260.5 139.1L1261.0 138.1L1261.5 137.1L1262.0 136.0L1262.5 135.0L1263.0 134.0L1263.5 133.0L1264.0 132.0L1264.5 131.1L1265.0 130.1L1265.5 129.1L1266.0 128.2L1266.5 127.2L1267.0 126.3L1267.5 125.3L1268.0 124.4L1268.5 123.5L1269.0 122.6L1269.5 121.7L1270.0 120.8L1270.5 119.9L1271.0 119.0L1271.5 118.1L1272.0 117.3L1272.5 116.4L1273.0 115.6L1273.5 114.7L1274.0 113.9L1274.5 113.1L1275.0 112.2L1275.5 111.4L1276.0 110.6L1276.5 109.8L1277.0 109.0L1277.5 108.2L1278.0 107.5L1278.5 106.7L1279.0 105.9L1279.5 105.2L1280.0 104.4L1280.5 103.7L1281.0 102.9L1281.5 102.2L1282.0 101.5L1282.5 100.8L1283.0 100.1L1283.5 99.4L1284.0 98.7L1284.5 98.0L1285.0 97.3L1285.5 96.6L1286.0 95.9L1286.5 95.3L1287.0 94.6L1287.5 94.0L1288.0 93.3L1288.5 92.7L1289.0 92.0L1289.5 91.4L1290.0 90.8L1290.5 90.2L1291.0 89.6L1291.5 89.0L1292.0 88.4L1292.5 87.8L1293.0 87.2L1293.5 86.6L1294.0 86.0L1294.5 85.5L1295.0 84.9L1295.5 84.4L1296.0 83.8L1296.5 83.3L1297.0 82.7L1297.5 82.2L1298.0 81.7L1298.5 81.1L1299.0 80.6L1299.5 80.1L1300.0 79.6L1300.5 79.1L1301.0 78.6L1301.5 78.1L1302.0 77.6L1302.5 77.1L1303.0 76.7L1303.5 76.2L1304.0 75.7L1304.5 75.3L1305.0 74.8L1305.5 74.4L1306.0 73.9L1306.5 73.5L1307.0 73.1L1307.5 72.7L1308.0 72.2L1308.5 71.8L1309.0 71.4L1309.5 71.0L1310.0 70.6L1310.5 70.2L1311.0 69.8L1311.5 69.4L1312.0 69.0L1312.5 68.7L1313.0 68.3L1313.5 67.9L1314.0 67.6L1314.5 67.2L1315.0 66.9L1315.5 66.5L1316.0 66.2L1316.5 65.8L1317.0 65.5L1317.5 65.2L1318.0 64.9L1318.5 64.5L1319.0 64.2L1319.5 63.9L1320.0 63.6L1320.5 63.3L1321.0 63.0L1321.5 62.7L1322.0 62.5L1322.5 62.2L1323.0 61.9L1323.5 61.6L1324.0 61.4L1324.5 61.1L1325.0 61.0L1325.5 61.0L1326.0 61.0L1326.5 61.0L1327.0 61.0L1327.5 61.0L1328.0 61.0L1328.5 61.0L1329.0 61.0L1329.5 61.0L1330.0 61.0L1330.5 61.0L1331.0 61.0L1331.5 61.0L1332.0 61.0L1332.5 61.0L1333.0 61.0L1333.5 61.0L1334.0 61.0L1334.5 61.0L1335.0 61.0L1335.5 61.0L1336.0 61.0L1336.5 61.0L1337.0 61.0L1337.5 61.0L1338.0 61.0L1338.5 61.0L1339.0 61.0L1339.5 61.0L1340.0 61.0L1340.5 61.0L1341.0 61.0L1341.5 61.0L1342.0 61.0L1342.5 61.0L1343.0 61.0L1343.5 61.0L1344.0 61.0L1344.5 61.0L1345.0 61.0L1345.5 61.0L1346.0 61.0L1346.5 61.0L1347.0 61.0L1347.5 61.0L1348.0 61.0L1348.5 61.0L1349.0 61.0L1349.5 61.0L1350.0 61.0L1350.5 61.0L1351.0 61.0L1351.5 61.0L1352.0 61.0L1352.5 61.0L1353.0 61.0L1353.5 61.0L1354.0 61.0L1354.5 61.0L1355.0 61.0L1355.5 61.0L1356.0 61.0L1356.5 61.0L1357.0 61.0L1357.5 61.0L1358.0 61.0L1358.5 61.0L1359.0 61.0L1359.5 61.0L1360.0 61.0L1360.5 61.0L1361.0 61.0L1361.5 61.0L1362.0 61.0L1362.5 61.0L1363.0 61.0L1363.5 61.0L1364.0 61.0L1364.5 61.0L1365.0 61.0L1365.5 61.0L1366.0 61.0L1366.5 61.0L1367.0 61.0L1367.5 61.0L1368.0 61.0L1368.5 61.0L1369.0 61.0L1369.5 61.0L1370.0 61.1L1370.5 61.4L1371.0 61.6L1371.5 61.9L1372.0 62.2L1372.5 62.5L1373.0 62.8L1373.5 63.1L1374.0 63.5L1374.5 63.8L1375.0 64.2L1375.5 64.6L1376.0 64.9L1376.5 65.3L1377.0 65.7L1377.5 66.2L1378.0 66.6L1378.5 67.0L1379.0 67.4L1379.5 67.9L1380.0 68.3L1380.5 68.8L1381.0 69.3L1381.5 69.7L1382.0 70.2L1382.5 70.7L1383.0 71.1L1383.5 71.6L1384.0 72.1L1384.5 72.6L1385.0 73.1L1385.5 73.6L1386.0 74.1L1386.5 74.5L1387.0 75.0L1387.5 75.5L1388.0 76.0L1388.5 76.5L1389.0 77.0L1389.5 77.5L1390.0 78.0L1390.5 78.5L1391.0 79.1L1391.5 79.6L1392.0 80.1L1392.5 80.7L1393.0 81.3L1393.5 81.8L1394.0 82.4L1394.5 83.0L1395.0 83.5L1395.5 84.1L1396.0 84.7L1396.5 85.3L1397.0 85.9L1397.5 86.6L1398.0 87.2L1398.5 87.8L1399.0 88.4L1399.5 89.0L1400.0 89.7L1400.5 90.3L1401.0 91.0L1401.5 91.6L1402.0 92.3L1402.5 92.9L1403.0 93.6L1403.5 94.2L1404.0 94.9L1404.5 95.6L1405.0 96.2L1405.5 96.9L1406.0 97.6L1406.5 98.2L1407.0 98.9L1407.5 99.6L1408.0 100.3L1408.5 100.9L1409.0 101.6L1409.5 102.3L1410.0 103.0L1410.5 103.7L1411.0 104.3L1411.5 105.0L1412.0 105.7L1412.5 106.4L1413.0 107.1L1413.5 107.7L1414.0 108.4L1414.5 109.1L1415.0 109.8L1415.5 110.5L1416.0 111.2L1416.5 111.9L1417.0 112.6L1417.5 113.3L1418.0 114.0L1418.5 114.7L1419.0 115.5L1419.5 116.2L1420.0 116.9L1420.5 117.6L1421.0 118.4L1421.5 119.1L1422.0 119.9L1422.5 120.6L1423.0 121.4L1423.5 122.1L1424.0 122.9L1424.5 123.6L1425.0 124.4L1425.5 125.2L1426.0 125.9L1426.5 126.7L1427.0 127.5L1427.5 128.3L1428.0 129.1L1428.5 129.9L1429.0 130.7L1429.5 131.5L1430.0 132.3L1430.5 133.1L1431.0 133.9L1431.5 134.8L1432.0 135.6L1432.5 136.4L1433.0 137.3L1433.5 138.1L1434.0 139.0L1434.5 139.9L1435.0 140.7L1435.5 141.6L1436.0 142.5L1436.5 143.4L1437.0 144.3L1437.5 145.2L1438.0 146.1L1438.5 147.0L1439.0 147.9L1439.5 148.9L1440.0 149.8L1440.5 150.7L1441.0 151.7L1441.5 152.6L1442.0 153.6L1442.5 154.5L1443.0 155.5L1443.5 156.5L1444.0 157.5L1444.5 158.4L1445.0 159.4L1445.5 160.4L1446.0 161.4L1446.5 162.4L1447.0 163.4L1447.5 164.4L1448.0 165.5L1448.5 166.5L1449.0 167.5L1449.5 168.5L1450.0 169.6L1450.5 170.6L1451.0 171.7L1451.5 172.7L1452.0 173.8L1452.5 174.9L1453.0 176.0L1453.5 177.1L1454.0 178.2L1454.5 179.3L1455.0 180.4L1455.5 181.6L1456.0 182.7L1456.5 183.9L1457.0 185.0L1457.5 186.2L1458.0 187.3L1458.5 188.5L1459.0 189.7L1459.5 190.9L1460.0 192.0L1460.5 193.2L1461.0 194.4L1461.5 195.6L1462.0 196.8L1462.5 197.9L1463.0 199.1L1463.5 200.3L1464.0 201.5L1464.5 202.7L1465.0 203.9L1465.5 205.0L1466.0 206.2L1466.5 207.4L1467.0 208.6L1467.5 209.8L1468.0 211.0L1468.5 212.2L1469.0 213.4L1469.5 214.6L1470.0 215.9L1470.5 217.1L1471.0 218.3L1471.5 219.5L1472.0 220.7L1472.5 222.0L1473.0 223.2L1473.5 224.4L1474.0 225.6L1474.5 226.9L1475.0 228.1L1475.5 229.3L1476.0 230.5L1476.5 231.8L1477.0 233.0L1477.5 234.2L1478.0 235.5L1478.5 236.7L1479.0 237.9L1479.5 239.1L1480.0 240.4L1480.5 241.6L1481.0 242.8L1481.5 244.0L1482.0 245.3L1482.5 246.5L1483.0 247.7L1483.5 248.9L1484.0 250.2L1484.5 251.4L1485.0 252.6L1485.5 253.9L1486.0 255.1L1486.5 256.4L1487.0 257.6L1487.5 258.9L1488.0 260.1L1488.5 261.4L1489.0 262.7L1489.5 264.0L1490.0 265.3L1490.5 266.6L1491.0 267.9L1491.5 269.2L1492.0 270.5L1492.5 271.8L1493.0 273.2L1493.5 274.5L1494.0 275.8L1494.5 277.2L1495.0 278.5L1495.5 279.9L1496.0 281.2L1496.5 282.6L1497.0 284.0L1497.5 285.4L1498.0 286.7L1498.5 288.1L1499.0 289.5L1499.5 290.9L1500.0 292.3L1500.5 293.7L1501.0 295.2L1501.5 296.6L1502.0 298.0" stroke="#FF0000" stroke-width="7.5" stroke-dasharray="0.0 8.4 36.0 35.0 36.0 35.0 36.0 35.0 36.0 35.0 36.0 35.0 36.0 35.0 45.0 32.8 36.0 34.1 36.0 35.0 36.0 35.0 36.0 35.0 36.0 35.0 36.0 35.0 36.0 35.0 36.0 34.3 16.0 25.2 36.0 34.2 36.0 36.4 36.0 34.1 36.0 35.2 36.0 28.2 36.0 34.2 36.0 35.0 36.0 35.0 36.0 35.0 36.0 35.1 36.0 33.2 16.0 33.3 36.0 35.1 36.0 35.6 36.0 35.0 36.0 35.0 36.0 34.5 36.0 35.0 36.0 35.0 36.0 34.0 36.0 35.1 36.0 36.5 36.0 36.4 36.0 33.9 36.0 36.7 36.0 35.3 36.0 35.0 36.0 34.3 36.0 33.9 36.0 22.6 36.0 34.3 36.0 34.1 36.0 35.2 36.0 25.1 36.0 34.2 36.0 35.5 36.0 35.1 36.0 35.1 36.0 35.1 36.0 35.1 36.0 35.3 36.0 32.1 36.0 33.4 36.0 35.2 36.0 35.1 36.0 35.1 36.0 35.1 36.0 35.1 36.0 35.1 36.0 35.1 36.0 35.1 36.0 35.1 36.0 35.1 36.0 33.5 30.0 33.8 36.0 33.0 36.0 34.9 36.0 34.4 36.0 35.5 36.0 34.6 72.0 30.7 36.0 35.5 36.0 35.1 36.0 35.2 36.0 27.1 36.0 34.7 36.0 34.3 36.0 35.2 36.0 34.2 36.0 34.2 36.0 35.3 36.0 34.4 36.0 34.8 36.0 27.0 29.0 39.4 36.0 34.8 36.0 35.6 36.0 34.4 36.0 33.3 36.0 35.3 36.0 35.2 36.0 35.2 36.0 34.2 36.0 35.2 36.0 34.3 36.0 35.4 36.0 20.2 34.0 37.1 36.0 34.9 36.0 35.7 36.0 34.7 36.0 33.9 36.0 34.8 36.0 26.8 36.0 40.2 36.0 34.4 36.0 34.9 36.0 26.4 36.0 41.8 36.0 33.3 36.0 36.1 36.0 34.0 36.0 35.1 36.0 37.3 36.0 32.5 36.0 34.5 36.0 35.1 36.0 31.7 36.0 41.1 37.0 27.4 36.0 39.6 36.0 34.8 36.0 35.4 34.9 50.0"/>
</g>
<g font-family="'Liberation Sans', Arial, sans-serif" font-size="69" fill="#000" stroke="#fff" stroke-width="0.8">
<text transform="translate(260 1045.3) scale(1 1.045)" text-anchor="end">0</text>
<text transform="translate(260 893.3) scale(1 1.045)" text-anchor="end">10</text>
<text transform="translate(260 741.3) scale(1 1.045)" text-anchor="end">20</text>
<text transform="translate(260 589.3) scale(1 1.045)" text-anchor="end">30</text>
<text transform="translate(260 437.3) scale(1 1.045)" text-anchor="end">40</text>
<text transform="translate(260 285.3) scale(1 1.045)" text-anchor="end">50</text>
<text transform="translate(260 133.3) scale(1 1.045)" text-anchor="end">60</text>
<text transform="translate(427.3 1110.6) scale(1 1.045)" text-anchor="middle">400</text>
<text transform="translate(695.8 1110.6) scale(1 1.045)" text-anchor="middle">600</text>
<text transform="translate(964.4 1110.6) scale(1 1.045)" text-anchor="middle">800</text>
<text transform="translate(1233.0 1110.6) scale(1 1.045)" text-anchor="middle">1000</text>
<text transform="translate(1501.5 1110.6) scale(1 1.045)" text-anchor="middle">1200</text>
</g>
<rect x="876" y="111.3" width="128" height="8.2" fill="#000"/>
<rect x="876" y="176.8" width="38" height="8.6" fill="#FF0000"/>
<rect x="947.8" y="176.8" width="37.6" height="8.6" fill="#FF0000"/>
<g font-family="'Liberation Sans', Arial, sans-serif" font-size="54" fill="#000">
<text x="1013.5" y="133">FDTD</text>
<text x="1013.5" y="198.8">NLEM</text>
</g>
<g font-family="'Liberation Sans', Arial, sans-serif" font-size="88" fill="#000">
<text transform="translate(899.5 1238.8) scale(1 1.035)" text-anchor="middle">Wavelength (nm)</text>
<text transform="translate(87.5 530) rotate(-90) scale(1 1.04)" text-anchor="middle" font-size="87">Reflectance %</text>
</g>
</svg>
</body>
</html>
